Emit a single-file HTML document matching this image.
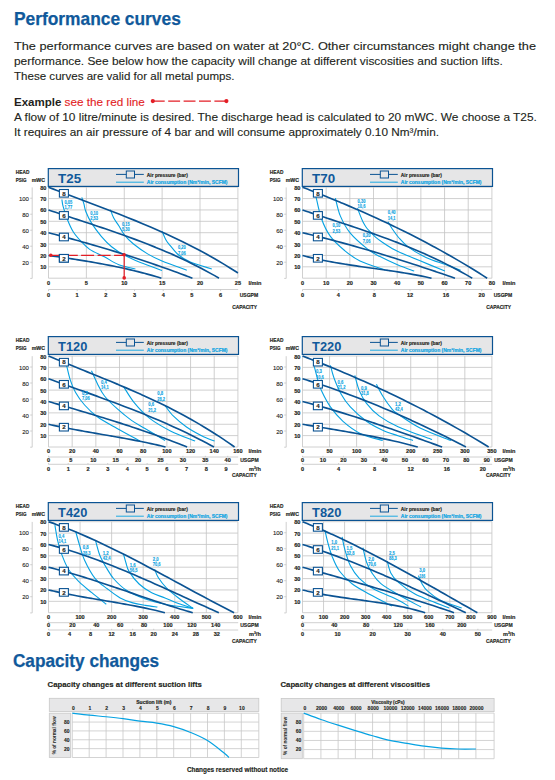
<!DOCTYPE html>
<html><head><meta charset="utf-8"><style>
html,body{margin:0;padding:0;background:#fff;width:555px;height:780px;overflow:hidden;position:relative}
</style></head><body>
<svg width="555" height="780" viewBox="0 0 555 780" style="position:absolute;left:0;top:0;font-family:'Liberation Sans', sans-serif">
<text x="14" y="24.9" font-size="19" fill="#10599b" font-weight="bold" stroke="#10599b" stroke-width="0.25" textLength="166.8" lengthAdjust="spacingAndGlyphs">Performance curves</text>
<text x="14" y="49.8" font-size="11.8" fill="#231f20" stroke="#231f20" stroke-width="0.12" textLength="522" lengthAdjust="spacingAndGlyphs">The performance curves are based on water at 20°C. Other circumstances might change the</text>
<text x="14" y="64.8" font-size="11.8" fill="#231f20" stroke="#231f20" stroke-width="0.12" textLength="488.7" lengthAdjust="spacingAndGlyphs">performance. See below how the capacity will change at different viscosities and suction lifts.</text>
<text x="14" y="79.8" font-size="11.8" fill="#231f20" stroke="#231f20" stroke-width="0.12" textLength="220.5" lengthAdjust="spacingAndGlyphs">These curves are valid for all metal pumps.</text>
<text x="14" y="106" font-size="11.8" fill="#231f20" font-weight="bold" textLength="47.5" lengthAdjust="spacingAndGlyphs">Example</text>
<text x="64.6" y="106" font-size="11.8" fill="#e31e26" stroke="#e31e26" stroke-width="0.12" textLength="80.2" lengthAdjust="spacingAndGlyphs">see the red line</text>
<line x1="152.8" y1="101.1" x2="226.4" y2="101.1" stroke="#e31e26" stroke-width="1.3" stroke-dasharray="11.9 3.5"/>
<circle cx="152.8" cy="101.1" r="2.1" fill="#e31e26"/><circle cx="226.4" cy="101.1" r="2.1" fill="#e31e26"/>
<text x="14" y="121.4" font-size="11.8" fill="#231f20" stroke="#231f20" stroke-width="0.12" textLength="522.9" lengthAdjust="spacingAndGlyphs">A flow of 10 litre/minute is desired. The discharge head is calculated to 20 mWC. We choose a T25.</text>
<text x="14" y="136.2" font-size="11.8" fill="#231f20" stroke="#231f20" stroke-width="0.12" textLength="425" lengthAdjust="spacingAndGlyphs">It requires an air pressure of 4 bar and will consume approximately 0.10 Nm³/min.</text>
<text x="15.8" y="173.9" font-size="5.4" fill="#231f20" font-weight="bold" stroke="#231f20" stroke-width="0.16" textLength="13.6" lengthAdjust="spacingAndGlyphs">HEAD</text>
<text x="15.8" y="181.8" font-size="5.4" fill="#231f20" font-weight="bold" stroke="#231f20" stroke-width="0.16" textLength="10.8" lengthAdjust="spacingAndGlyphs">PSIG</text>
<text x="31.7" y="181.8" font-size="5.4" fill="#231f20" font-weight="bold" stroke="#231f20" stroke-width="0.16" textLength="13.4" lengthAdjust="spacingAndGlyphs">mWC</text>
<path d="M32.2 187.4 V278.4 H30.2" fill="none" stroke="#c4c4c4" stroke-width="0.8"/>
<line x1="30.2" y1="262.21" x2="32.2" y2="262.21" stroke="#c4c4c4" stroke-width="0.8"/>
<text x="28.9" y="264.71" font-size="6" fill="#222" stroke="#222" stroke-width="0.1" text-anchor="end">20</text>
<line x1="30.2" y1="246.21" x2="32.2" y2="246.21" stroke="#c4c4c4" stroke-width="0.8"/>
<text x="28.9" y="248.71" font-size="6" fill="#222" stroke="#222" stroke-width="0.1" text-anchor="end">40</text>
<line x1="30.2" y1="230.22" x2="32.2" y2="230.22" stroke="#c4c4c4" stroke-width="0.8"/>
<text x="28.9" y="232.72" font-size="6" fill="#222" stroke="#222" stroke-width="0.1" text-anchor="end">60</text>
<line x1="30.2" y1="214.22" x2="32.2" y2="214.22" stroke="#c4c4c4" stroke-width="0.8"/>
<text x="28.9" y="216.72" font-size="6" fill="#222" stroke="#222" stroke-width="0.1" text-anchor="end">80</text>
<line x1="30.2" y1="198.23" x2="32.2" y2="198.23" stroke="#c4c4c4" stroke-width="0.8"/>
<text x="28.9" y="200.73" font-size="6" fill="#222" stroke="#222" stroke-width="0.1" text-anchor="end">100</text>
<text x="46.4" y="269.32" font-size="5.6" fill="#231f20" font-weight="bold" stroke="#231f20" stroke-width="0.16" text-anchor="end">10</text>
<text x="46.4" y="257.95" font-size="5.6" fill="#231f20" font-weight="bold" stroke="#231f20" stroke-width="0.16" text-anchor="end">20</text>
<text x="46.4" y="246.57" font-size="5.6" fill="#231f20" font-weight="bold" stroke="#231f20" stroke-width="0.16" text-anchor="end">30</text>
<text x="46.4" y="235.2" font-size="5.6" fill="#231f20" font-weight="bold" stroke="#231f20" stroke-width="0.16" text-anchor="end">40</text>
<text x="46.4" y="223.82" font-size="5.6" fill="#231f20" font-weight="bold" stroke="#231f20" stroke-width="0.16" text-anchor="end">50</text>
<text x="46.4" y="212.45" font-size="5.6" fill="#231f20" font-weight="bold" stroke="#231f20" stroke-width="0.16" text-anchor="end">60</text>
<text x="46.4" y="201.07" font-size="5.6" fill="#231f20" font-weight="bold" stroke="#231f20" stroke-width="0.16" text-anchor="end">70</text>
<text x="46.4" y="189.7" font-size="5.6" fill="#231f20" font-weight="bold" stroke="#231f20" stroke-width="0.16" text-anchor="end">80</text>
<path d="M48.5 266.82 H237.9 M48.5 255.45 H237.9 M48.5 244.07 H237.9 M48.5 232.7 H237.9 M48.5 221.32 H237.9 M48.5 209.95 H237.9 M48.5 198.57 H237.9 M48.5 187.2 H237.9 M48.5 187.2 V278.2 M86.38 187.2 V278.2 M124.26 187.2 V278.2 M162.14 187.2 V278.2 M200.02 187.2 V278.2 M237.9 187.2 V278.2 M48.5 278.2 H237.9" fill="none" stroke="#c4c4c4" stroke-width="0.8"/>
<rect x="48.3" y="168.6" width="190.2" height="17.8" fill="#e6e6e7" stroke="#0b5393" stroke-width="1.2"/>
<text x="58.1" y="182.7" font-size="12.2" fill="#10599b" font-weight="bold" textLength="23" lengthAdjust="spacingAndGlyphs">T25</text>
<line x1="116" y1="174.4" x2="143.8" y2="174.4" stroke="#0b5393" stroke-width="1"/>
<rect x="126.3" y="171" width="8.2" height="7" fill="#e6e6e7" stroke="#0b5393" stroke-width="1"/>
<line x1="116" y1="182.2" x2="143.8" y2="182.2" stroke="#06a2e2" stroke-width="0.9"/>
<text x="146.8" y="176.7" font-size="5" fill="#231f20" font-weight="bold" stroke="#231f20" stroke-width="0.16" textLength="41" lengthAdjust="spacingAndGlyphs">Air pressure (bar)</text>
<text x="146.8" y="183.6" font-size="5" fill="#06a2e2" font-weight="bold" stroke="#06a2e2" stroke-width="0.16" textLength="80.7" lengthAdjust="spacingAndGlyphs">Air consumption (Nm³/min, SCFM)</text>
<path d="M61.9 199.5 C62.1 200.65 62.17 203.03 63.1 206.4 C64.03 209.77 65.82 215.48 67.5 219.7 C69.18 223.92 70.88 228.03 73.2 231.7 C75.52 235.37 78.6 238.72 81.4 241.7 C84.2 244.68 86.17 247.08 90 249.6 C93.83 252.12 99.6 254.28 104.4 256.8 C109.2 259.32 113.63 262.67 118.8 264.7 C123.97 266.73 132.63 268.28 135.4 269" fill="none" stroke="#06a2e2" stroke-width="1.1"/>
<path d="M81.8 197.4 C82.15 198.48 83.23 201.55 83.9 203.9 C84.57 206.25 84.55 208.33 85.8 211.5 C87.05 214.67 88.78 218.72 91.4 222.9 C94.02 227.08 98.13 232.63 101.5 236.6 C104.87 240.57 107.75 243.58 111.6 246.7 C115.45 249.82 119.8 252.67 124.6 255.3 C129.4 257.93 134.17 259.97 140.4 262.5 C146.63 265.03 158.4 269.17 162 270.5" fill="none" stroke="#06a2e2" stroke-width="1.1"/>
<path d="M110.4 209.6 C110.93 210.97 112.2 215.1 113.6 217.8 C115 220.5 116.97 222.9 118.8 225.8 C120.63 228.7 122.2 232.2 124.6 235.2 C127 238.2 129.37 240.68 133.2 243.8 C137.03 246.92 142.8 251.02 147.6 253.9 C152.4 256.78 155.47 258.38 162 261.1 C168.53 263.82 182.67 268.68 186.8 270.2" fill="none" stroke="#06a2e2" stroke-width="1.1"/>
<path d="M162.2 231.6 C162.83 233 164.7 237.72 166 240 C167.3 242.28 167.9 242.8 170 245.3 C172.1 247.8 175.22 252.22 178.6 255 C181.98 257.78 184.77 259.67 190.3 262 C195.83 264.33 208.22 267.83 211.8 269" fill="none" stroke="#06a2e2" stroke-width="1.1"/>
<path d="M48.5 187.2 C49.82 187.71 53.76 189.25 56.39 190.26 C59.02 191.28 61.65 192.28 64.28 193.29 C66.91 194.29 69.54 195.29 72.17 196.28 C74.81 197.28 77.44 198.27 80.07 199.26 C82.7 200.25 85.33 201.24 87.96 202.24 C90.59 203.23 93.22 204.22 95.85 205.22 C98.48 206.22 101.11 207.21 103.74 208.22 C106.37 209.23 109 210.23 111.63 211.25 C114.26 212.27 116.89 213.29 119.53 214.32 C122.16 215.35 124.79 216.39 127.42 217.44 C130.05 218.49 132.68 219.56 135.31 220.63 C137.94 221.7 140.57 222.79 143.2 223.89 C145.83 224.99 148.46 226.11 151.09 227.24 C153.72 228.37 156.35 229.52 158.98 230.68 C161.61 231.85 164.24 233.03 166.88 234.23 C169.51 235.44 172.14 236.66 174.77 237.91 C177.4 239.15 180.03 240.42 182.66 241.71 C185.29 243 187.92 244.32 190.55 245.66 C193.18 247 195.81 248.36 198.44 249.76 C201.07 251.15 203.7 252.57 206.33 254.02 C208.96 255.48 211.59 256.96 214.23 258.47 C216.86 259.98 219.49 261.52 222.12 263.1 C224.75 264.67 227.38 266.28 230.01 267.93 C232.64 269.57 236.58 272.13 237.9 272.97" fill="none" stroke="#0b5393" stroke-width="1.65"/>
<path d="M48.5 209.95 C49.68 210.35 53.23 211.55 55.6 212.34 C57.97 213.13 60.34 213.91 62.7 214.7 C65.07 215.48 67.44 216.26 69.81 217.04 C72.18 217.82 74.54 218.6 76.91 219.38 C79.28 220.16 81.64 220.94 84.01 221.72 C86.38 222.5 88.75 223.28 91.12 224.07 C93.48 224.85 95.85 225.64 98.22 226.43 C100.59 227.23 102.95 228.03 105.32 228.83 C107.69 229.64 110.06 230.45 112.42 231.26 C114.79 232.08 117.16 232.91 119.53 233.74 C121.89 234.58 124.26 235.42 126.63 236.28 C129 237.13 131.36 237.99 133.73 238.87 C136.1 239.75 138.47 240.64 140.83 241.54 C143.2 242.44 145.57 243.36 147.94 244.29 C150.3 245.22 152.67 246.17 155.04 247.13 C157.41 248.09 159.77 249.07 162.14 250.07 C164.51 251.07 166.88 252.08 169.24 253.12 C171.61 254.15 173.98 255.2 176.35 256.28 C178.71 257.35 181.08 258.45 183.45 259.57 C185.82 260.69 188.18 261.82 190.55 262.99 C192.92 264.15 195.28 265.34 197.65 266.56 C200.02 267.77 202.39 269.01 204.76 270.27 C207.12 271.54 209.49 272.83 211.86 274.15 C214.23 275.47 217.78 277.52 218.96 278.2" fill="none" stroke="#0b5393" stroke-width="1.65"/>
<path d="M48.5 232.7 C49.5 232.96 52.5 233.75 54.5 234.28 C56.5 234.81 58.5 235.34 60.5 235.88 C62.49 236.42 64.49 236.96 66.49 237.51 C68.49 238.05 70.49 238.6 72.49 239.15 C74.49 239.71 76.49 240.26 78.49 240.82 C80.49 241.39 82.49 241.95 84.49 242.52 C86.49 243.09 88.48 243.67 90.48 244.24 C92.48 244.82 94.48 245.41 96.48 245.99 C98.48 246.58 100.48 247.17 102.48 247.77 C104.48 248.37 106.48 248.97 108.48 249.57 C110.48 250.18 112.48 250.79 114.47 251.41 C116.47 252.02 118.47 252.64 120.47 253.27 C122.47 253.89 124.47 254.52 126.47 255.16 C128.47 255.8 130.47 256.44 132.47 257.08 C134.47 257.73 136.47 258.38 138.47 259.04 C140.46 259.7 142.46 260.36 144.46 261.03 C146.46 261.7 148.46 262.37 150.46 263.05 C152.46 263.73 154.46 264.41 156.46 265.1 C158.46 265.8 160.46 266.49 162.46 267.2 C164.45 267.9 166.45 268.61 168.45 269.32 C170.45 270.04 172.45 270.76 174.45 271.48 C176.45 272.21 178.45 272.95 180.45 273.68 C182.45 274.42 184.45 275.17 186.45 275.92 C188.45 276.68 191.44 277.82 192.44 278.2" fill="none" stroke="#0b5393" stroke-width="1.65"/>
<path d="M48.5 255.45 C49.28 255.56 51.64 255.9 53.2 256.12 C54.77 256.35 56.34 256.58 57.91 256.8 C59.47 257.03 61.04 257.26 62.61 257.49 C64.18 257.72 65.75 257.96 67.31 258.19 C68.88 258.43 70.45 258.66 72.02 258.9 C73.58 259.14 75.15 259.39 76.72 259.63 C78.29 259.88 79.86 260.13 81.42 260.38 C82.99 260.63 84.56 260.88 86.13 261.14 C87.7 261.4 89.26 261.67 90.83 261.93 C92.4 262.2 93.97 262.47 95.53 262.75 C97.1 263.02 98.67 263.3 100.24 263.59 C101.81 263.88 103.37 264.17 104.94 264.46 C106.51 264.76 108.08 265.06 109.64 265.37 C111.21 265.68 112.78 265.99 114.35 266.31 C115.92 266.63 117.48 266.95 119.05 267.29 C120.62 267.62 122.19 267.96 123.75 268.31 C125.32 268.65 126.89 269.01 128.46 269.37 C130.03 269.73 131.59 270.1 133.16 270.47 C134.73 270.85 136.3 271.23 137.87 271.63 C139.43 272.02 141 272.42 142.57 272.83 C144.14 273.24 145.7 273.66 147.27 274.09 C148.84 274.52 150.41 274.95 151.98 275.4 C153.54 275.85 155.11 276.3 156.68 276.77 C158.25 277.24 160.6 277.96 161.38 278.2" fill="none" stroke="#0b5393" stroke-width="1.65"/>
<text x="64.4" y="203.9" font-size="5" fill="#06a2e2" font-weight="bold" stroke="#06a2e2" stroke-width="0.1" textLength="7.8" lengthAdjust="spacingAndGlyphs">0,05</text>
<text x="64.4" y="209.4" font-size="5" fill="#06a2e2" font-weight="bold" stroke="#06a2e2" stroke-width="0.1" textLength="7.8" lengthAdjust="spacingAndGlyphs">1,77</text>
<text x="90.2" y="214.6" font-size="5" fill="#06a2e2" font-weight="bold" stroke="#06a2e2" stroke-width="0.1" textLength="7.8" lengthAdjust="spacingAndGlyphs">0,10</text>
<text x="90.2" y="220.1" font-size="5" fill="#06a2e2" font-weight="bold" stroke="#06a2e2" stroke-width="0.1" textLength="7.8" lengthAdjust="spacingAndGlyphs">2,53</text>
<text x="121.9" y="225.9" font-size="5" fill="#06a2e2" font-weight="bold" stroke="#06a2e2" stroke-width="0.1" textLength="7.8" lengthAdjust="spacingAndGlyphs">0,15</text>
<text x="121.9" y="231.4" font-size="5" fill="#06a2e2" font-weight="bold" stroke="#06a2e2" stroke-width="0.1" textLength="7.8" lengthAdjust="spacingAndGlyphs">5,30</text>
<text x="178" y="249.1" font-size="5" fill="#06a2e2" font-weight="bold" stroke="#06a2e2" stroke-width="0.1" textLength="7.8" lengthAdjust="spacingAndGlyphs">0,20</text>
<text x="178" y="254.6" font-size="5" fill="#06a2e2" font-weight="bold" stroke="#06a2e2" stroke-width="0.1" textLength="7.8" lengthAdjust="spacingAndGlyphs">7,06</text>
<rect x="59.4" y="189.5" width="9" height="7.6" fill="#fff" stroke="#0b5393" stroke-width="1.1"/>
<text x="63.9" y="195.5" font-size="6.2" fill="#231f20" font-weight="bold" stroke="#231f20" stroke-width="0.16" text-anchor="middle">8</text>
<rect x="59.4" y="211.6" width="9" height="7.6" fill="#fff" stroke="#0b5393" stroke-width="1.1"/>
<text x="63.9" y="217.6" font-size="6.2" fill="#231f20" font-weight="bold" stroke="#231f20" stroke-width="0.16" text-anchor="middle">6</text>
<rect x="59.4" y="233.2" width="9" height="7.6" fill="#fff" stroke="#0b5393" stroke-width="1.1"/>
<text x="63.9" y="239.2" font-size="6.2" fill="#231f20" font-weight="bold" stroke="#231f20" stroke-width="0.16" text-anchor="middle">4</text>
<rect x="59.4" y="254.5" width="9" height="7.6" fill="#fff" stroke="#0b5393" stroke-width="1.1"/>
<text x="63.9" y="260.5" font-size="6.2" fill="#231f20" font-weight="bold" stroke="#231f20" stroke-width="0.16" text-anchor="middle">2</text>
<text x="48.5" y="285.1" font-size="5.6" fill="#231f20" font-weight="bold" stroke="#231f20" stroke-width="0.16" text-anchor="middle">0</text>
<text x="86.38" y="285.1" font-size="5.6" fill="#231f20" font-weight="bold" stroke="#231f20" stroke-width="0.16" text-anchor="middle">5</text>
<text x="124.26" y="285.1" font-size="5.6" fill="#231f20" font-weight="bold" stroke="#231f20" stroke-width="0.16" text-anchor="middle">10</text>
<text x="162.14" y="285.1" font-size="5.6" fill="#231f20" font-weight="bold" stroke="#231f20" stroke-width="0.16" text-anchor="middle">15</text>
<text x="200.02" y="285.1" font-size="5.6" fill="#231f20" font-weight="bold" stroke="#231f20" stroke-width="0.16" text-anchor="middle">20</text>
<text x="237.9" y="285.1" font-size="5.6" fill="#231f20" font-weight="bold" stroke="#231f20" stroke-width="0.16" text-anchor="middle">25</text>
<text x="248.4" y="285.2" font-size="5.6" fill="#231f20" font-weight="bold" stroke="#231f20" stroke-width="0.16">l/min</text>
<line x1="48.5" y1="289.5" x2="238.2" y2="289.5" stroke="#c4c4c4" stroke-width="0.8"/>
<line x1="48.5" y1="289.5" x2="48.5" y2="291.1" stroke="#c4c4c4" stroke-width="0.8"/>
<text x="48.5" y="297.3" font-size="5.6" fill="#231f20" font-weight="bold" stroke="#231f20" stroke-width="0.16" text-anchor="middle">0</text>
<line x1="77.18" y1="289.5" x2="77.18" y2="291.1" stroke="#c4c4c4" stroke-width="0.8"/>
<text x="77.18" y="297.3" font-size="5.6" fill="#231f20" font-weight="bold" stroke="#231f20" stroke-width="0.16" text-anchor="middle">1</text>
<line x1="105.86" y1="289.5" x2="105.86" y2="291.1" stroke="#c4c4c4" stroke-width="0.8"/>
<text x="105.86" y="297.3" font-size="5.6" fill="#231f20" font-weight="bold" stroke="#231f20" stroke-width="0.16" text-anchor="middle">2</text>
<line x1="134.53" y1="289.5" x2="134.53" y2="291.1" stroke="#c4c4c4" stroke-width="0.8"/>
<text x="134.53" y="297.3" font-size="5.6" fill="#231f20" font-weight="bold" stroke="#231f20" stroke-width="0.16" text-anchor="middle">3</text>
<line x1="163.21" y1="289.5" x2="163.21" y2="291.1" stroke="#c4c4c4" stroke-width="0.8"/>
<text x="163.21" y="297.3" font-size="5.6" fill="#231f20" font-weight="bold" stroke="#231f20" stroke-width="0.16" text-anchor="middle">4</text>
<line x1="191.89" y1="289.5" x2="191.89" y2="291.1" stroke="#c4c4c4" stroke-width="0.8"/>
<text x="191.89" y="297.3" font-size="5.6" fill="#231f20" font-weight="bold" stroke="#231f20" stroke-width="0.16" text-anchor="middle">5</text>
<line x1="220.57" y1="289.5" x2="220.57" y2="291.1" stroke="#c4c4c4" stroke-width="0.8"/>
<text x="220.57" y="297.3" font-size="5.6" fill="#231f20" font-weight="bold" stroke="#231f20" stroke-width="0.16" text-anchor="middle">6</text>
<text x="239.7" y="297.3" font-size="5.4" fill="#231f20" font-weight="bold" stroke="#231f20" stroke-width="0.16" textLength="18.5" lengthAdjust="spacingAndGlyphs">USGPM</text>
<text x="232.2" y="309.2" font-size="5.2" fill="#231f20" font-weight="bold" stroke="#231f20" stroke-width="0.16" textLength="24.8" lengthAdjust="spacingAndGlyphs">CAPACITY</text>
<line x1="50.8" y1="255.3" x2="124.2" y2="255.3" stroke="#e31e26" stroke-width="1.2" stroke-dasharray="27 3.3 13 3.5 13 3.5 13"/>
<line x1="124.2" y1="255.3" x2="124.2" y2="278" stroke="#e31e26" stroke-width="1.2"/>
<circle cx="50.8" cy="255.2" r="1.8" fill="#e31e26"/>
<circle cx="124.1" cy="254.8" r="1.8" fill="#e31e26"/>
<circle cx="124.2" cy="277.9" r="1.8" fill="#e31e26"/>
<rect x="59.4" y="254.5" width="9" height="7.6" fill="#fff" stroke="#0b5393" stroke-width="1.1"/>
<text x="63.9" y="260.5" font-size="6.2" fill="#231f20" font-weight="bold" stroke="#231f20" stroke-width="0.16" text-anchor="middle">2</text>
<text x="269.8" y="173.9" font-size="5.4" fill="#231f20" font-weight="bold" stroke="#231f20" stroke-width="0.16" textLength="13.6" lengthAdjust="spacingAndGlyphs">HEAD</text>
<text x="269.8" y="181.8" font-size="5.4" fill="#231f20" font-weight="bold" stroke="#231f20" stroke-width="0.16" textLength="10.8" lengthAdjust="spacingAndGlyphs">PSIG</text>
<text x="285.7" y="181.8" font-size="5.4" fill="#231f20" font-weight="bold" stroke="#231f20" stroke-width="0.16" textLength="13.4" lengthAdjust="spacingAndGlyphs">mWC</text>
<path d="M286.2 187.4 V278.4 H284.2" fill="none" stroke="#c4c4c4" stroke-width="0.8"/>
<line x1="284.2" y1="262.21" x2="286.2" y2="262.21" stroke="#c4c4c4" stroke-width="0.8"/>
<text x="282.9" y="264.71" font-size="6" fill="#222" stroke="#222" stroke-width="0.1" text-anchor="end">20</text>
<line x1="284.2" y1="246.21" x2="286.2" y2="246.21" stroke="#c4c4c4" stroke-width="0.8"/>
<text x="282.9" y="248.71" font-size="6" fill="#222" stroke="#222" stroke-width="0.1" text-anchor="end">40</text>
<line x1="284.2" y1="230.22" x2="286.2" y2="230.22" stroke="#c4c4c4" stroke-width="0.8"/>
<text x="282.9" y="232.72" font-size="6" fill="#222" stroke="#222" stroke-width="0.1" text-anchor="end">60</text>
<line x1="284.2" y1="214.22" x2="286.2" y2="214.22" stroke="#c4c4c4" stroke-width="0.8"/>
<text x="282.9" y="216.72" font-size="6" fill="#222" stroke="#222" stroke-width="0.1" text-anchor="end">80</text>
<line x1="284.2" y1="198.23" x2="286.2" y2="198.23" stroke="#c4c4c4" stroke-width="0.8"/>
<text x="282.9" y="200.73" font-size="6" fill="#222" stroke="#222" stroke-width="0.1" text-anchor="end">100</text>
<text x="300.4" y="269.32" font-size="5.6" fill="#231f20" font-weight="bold" stroke="#231f20" stroke-width="0.16" text-anchor="end">10</text>
<text x="300.4" y="257.95" font-size="5.6" fill="#231f20" font-weight="bold" stroke="#231f20" stroke-width="0.16" text-anchor="end">20</text>
<text x="300.4" y="246.57" font-size="5.6" fill="#231f20" font-weight="bold" stroke="#231f20" stroke-width="0.16" text-anchor="end">30</text>
<text x="300.4" y="235.2" font-size="5.6" fill="#231f20" font-weight="bold" stroke="#231f20" stroke-width="0.16" text-anchor="end">40</text>
<text x="300.4" y="223.82" font-size="5.6" fill="#231f20" font-weight="bold" stroke="#231f20" stroke-width="0.16" text-anchor="end">50</text>
<text x="300.4" y="212.45" font-size="5.6" fill="#231f20" font-weight="bold" stroke="#231f20" stroke-width="0.16" text-anchor="end">60</text>
<text x="300.4" y="201.07" font-size="5.6" fill="#231f20" font-weight="bold" stroke="#231f20" stroke-width="0.16" text-anchor="end">70</text>
<text x="300.4" y="189.7" font-size="5.6" fill="#231f20" font-weight="bold" stroke="#231f20" stroke-width="0.16" text-anchor="end">80</text>
<path d="M302.5 266.82 H491.9 M302.5 255.45 H491.9 M302.5 244.07 H491.9 M302.5 232.7 H491.9 M302.5 221.32 H491.9 M302.5 209.95 H491.9 M302.5 198.57 H491.9 M302.5 187.2 H491.9 M302.5 187.2 V278.2 M326.18 187.2 V278.2 M349.85 187.2 V278.2 M373.52 187.2 V278.2 M397.2 187.2 V278.2 M420.88 187.2 V278.2 M444.55 187.2 V278.2 M468.22 187.2 V278.2 M491.9 187.2 V278.2 M302.5 278.2 H491.9" fill="none" stroke="#c4c4c4" stroke-width="0.8"/>
<rect x="302.3" y="168.6" width="190.2" height="17.8" fill="#e6e6e7" stroke="#0b5393" stroke-width="1.2"/>
<text x="312.1" y="182.7" font-size="12.2" fill="#10599b" font-weight="bold" textLength="23" lengthAdjust="spacingAndGlyphs">T70</text>
<line x1="370" y1="174.4" x2="397.8" y2="174.4" stroke="#0b5393" stroke-width="1"/>
<rect x="380.3" y="171" width="8.2" height="7" fill="#e6e6e7" stroke="#0b5393" stroke-width="1"/>
<line x1="370" y1="182.2" x2="397.8" y2="182.2" stroke="#06a2e2" stroke-width="0.9"/>
<text x="400.8" y="176.7" font-size="5" fill="#231f20" font-weight="bold" stroke="#231f20" stroke-width="0.16" textLength="41" lengthAdjust="spacingAndGlyphs">Air pressure (bar)</text>
<text x="400.8" y="183.6" font-size="5" fill="#06a2e2" font-weight="bold" stroke="#06a2e2" stroke-width="0.16" textLength="80.7" lengthAdjust="spacingAndGlyphs">Air consumption (Nm³/min, SCFM)</text>
<path d="M315.8 195.8 C316.75 199.63 319.1 212.08 321.5 218.8 C323.9 225.52 326.35 230.82 330.2 236.1 C334.05 241.38 339.63 246.35 344.6 250.5 C349.57 254.65 353.27 257.75 360 261 C366.73 264.25 380.83 268.5 385 270" fill="none" stroke="#06a2e2" stroke-width="1.1"/>
<path d="M335.4 198.1 C336.22 201.07 337.82 210.05 340.3 215.9 C342.78 221.75 345.75 227.67 350.3 233.2 C354.85 238.73 362.65 245.2 367.6 249.1 C372.55 253 374.93 253.95 380 256.6 C385.07 259.25 392.3 262.6 398 265 C403.7 267.4 411.5 270 414.2 271" fill="none" stroke="#06a2e2" stroke-width="1.1"/>
<path d="M357.5 208.2 C357.95 209.4 359.3 213.15 360.2 215.4 C361.1 217.65 361.85 219.65 362.9 221.7 C363.95 223.75 365.3 226.05 366.5 227.7 C367.7 229.35 368.6 230.03 370.1 231.6 C371.6 233.17 373.4 235.28 375.5 237.1 C377.6 238.92 380 240.65 382.7 242.5 C385.4 244.35 389.15 246.7 391.7 248.2 C394.25 249.7 393.37 249.43 398 251.5 C402.63 253.57 411.68 257.35 419.5 260.6 C427.32 263.85 440.67 269.27 444.9 271" fill="none" stroke="#06a2e2" stroke-width="1.1"/>
<path d="M388 221.7 C388.67 222.83 390.23 225.87 392 228.5 C393.77 231.13 395.82 234.35 398.6 237.5 C401.38 240.65 404.13 244.08 408.7 247.4 C413.27 250.72 419.87 254.53 426 257.4 C432.13 260.27 439.73 262.47 445.5 264.6 C451.27 266.73 458.08 269.27 460.6 270.2" fill="none" stroke="#06a2e2" stroke-width="1.1"/>
<path d="M302.5 187.2 C303.78 187.7 307.63 189.19 310.19 190.19 C312.76 191.2 315.32 192.21 317.89 193.23 C320.45 194.25 323.02 195.28 325.58 196.31 C328.15 197.35 330.71 198.4 333.28 199.45 C335.84 200.5 338.41 201.56 340.97 202.64 C343.54 203.71 346.1 204.79 348.67 205.88 C351.23 206.98 353.8 208.08 356.36 209.19 C358.93 210.3 361.49 211.43 364.06 212.56 C366.62 213.7 369.18 214.84 371.75 216 C374.31 217.16 376.88 218.33 379.44 219.51 C382.01 220.7 384.57 221.89 387.14 223.1 C389.7 224.31 392.27 225.53 394.83 226.77 C397.4 228 399.96 229.25 402.53 230.51 C405.09 231.78 407.66 233.05 410.22 234.35 C412.79 235.64 415.35 236.95 417.92 238.27 C420.48 239.59 423.05 240.93 425.61 242.29 C428.17 243.64 430.74 245.01 433.3 246.4 C435.87 247.79 438.43 249.19 441 250.62 C443.56 252.04 446.13 253.48 448.69 254.93 C451.26 256.39 453.82 257.86 456.39 259.36 C458.95 260.85 461.52 262.36 464.08 263.89 C466.65 265.42 469.21 266.97 471.78 268.54 C474.34 270.11 476.91 271.7 479.47 273.31 C482.04 274.92 485.88 277.39 487.16 278.2" fill="none" stroke="#0b5393" stroke-width="1.65"/>
<path d="M302.5 209.95 C303.68 210.35 307.22 211.54 309.57 212.33 C311.93 213.12 314.29 213.91 316.65 214.69 C319 215.47 321.36 216.25 323.72 217.03 C326.08 217.81 328.43 218.58 330.79 219.36 C333.15 220.14 335.51 220.91 337.86 221.69 C340.22 222.47 342.58 223.24 344.94 224.03 C347.3 224.81 349.65 225.59 352.01 226.38 C354.37 227.17 356.73 227.97 359.08 228.77 C361.44 229.57 363.8 230.37 366.16 231.19 C368.51 232 370.87 232.82 373.23 233.65 C375.59 234.48 377.94 235.32 380.3 236.17 C382.66 237.02 385.02 237.88 387.37 238.76 C389.73 239.63 392.09 240.52 394.45 241.42 C396.81 242.32 399.16 243.23 401.52 244.16 C403.88 245.09 406.24 246.03 408.59 247 C410.95 247.96 413.31 248.94 415.67 249.93 C418.02 250.93 420.38 251.95 422.74 252.98 C425.1 254.02 427.45 255.07 429.81 256.15 C432.17 257.23 434.53 258.32 436.89 259.45 C439.24 260.57 441.6 261.71 443.96 262.88 C446.32 264.05 448.67 265.25 451.03 266.47 C453.39 267.69 455.75 268.93 458.1 270.21 C460.46 271.48 462.82 272.78 465.18 274.12 C467.53 275.45 471.07 277.52 472.25 278.2" fill="none" stroke="#0b5393" stroke-width="1.65"/>
<path d="M302.5 232.7 C303.56 232.95 306.74 233.7 308.85 234.21 C310.97 234.72 313.09 235.24 315.21 235.76 C317.32 236.29 319.44 236.82 321.56 237.36 C323.68 237.89 325.79 238.44 327.91 238.99 C330.03 239.54 332.15 240.09 334.26 240.65 C336.38 241.22 338.5 241.78 340.62 242.36 C342.73 242.93 344.85 243.51 346.97 244.1 C349.09 244.68 351.2 245.28 353.32 245.87 C355.44 246.47 357.56 247.07 359.68 247.68 C361.79 248.29 363.91 248.9 366.03 249.52 C368.15 250.14 370.26 250.77 372.38 251.4 C374.5 252.03 376.62 252.66 378.73 253.3 C380.85 253.94 382.97 254.59 385.09 255.23 C387.2 255.88 389.32 256.54 391.44 257.2 C393.56 257.86 395.67 258.52 397.79 259.19 C399.91 259.86 402.03 260.53 404.14 261.21 C406.26 261.88 408.38 262.56 410.5 263.25 C412.62 263.93 414.73 264.62 416.85 265.32 C418.97 266.01 421.09 266.71 423.2 267.41 C425.32 268.11 427.44 268.82 429.56 269.53 C431.67 270.24 433.79 270.95 435.91 271.66 C438.03 272.38 440.14 273.1 442.26 273.82 C444.38 274.55 446.5 275.27 448.61 276 C450.73 276.73 453.91 277.83 454.97 278.2" fill="none" stroke="#0b5393" stroke-width="1.65"/>
<path d="M302.5 255.45 C303.4 255.68 306.08 256.4 307.88 256.84 C309.67 257.29 311.46 257.72 313.25 258.14 C315.04 258.56 316.84 258.96 318.63 259.34 C320.42 259.73 322.21 260.11 324 260.47 C325.8 260.83 327.59 261.18 329.38 261.52 C331.17 261.86 332.97 262.18 334.76 262.5 C336.55 262.82 338.34 263.13 340.13 263.43 C341.93 263.73 343.72 264.02 345.51 264.3 C347.3 264.59 349.09 264.87 350.89 265.14 C352.68 265.41 354.47 265.68 356.26 265.94 C358.05 266.2 359.85 266.46 361.64 266.72 C363.43 266.97 365.22 267.22 367.01 267.48 C368.81 267.73 370.6 267.98 372.39 268.23 C374.18 268.48 375.97 268.72 377.77 268.98 C379.56 269.23 381.35 269.48 383.14 269.73 C384.94 269.99 386.73 270.24 388.52 270.5 C390.31 270.77 392.1 271.03 393.9 271.3 C395.69 271.57 397.48 271.84 399.27 272.13 C401.06 272.41 402.86 272.7 404.65 272.99 C406.44 273.29 408.23 273.59 410.02 273.91 C411.82 274.22 413.61 274.54 415.4 274.88 C417.19 275.21 418.98 275.55 420.78 275.91 C422.57 276.27 424.36 276.63 426.15 277.01 C427.94 277.4 430.63 278 431.53 278.2" fill="none" stroke="#0b5393" stroke-width="1.65"/>
<text x="357.6" y="202.9" font-size="5" fill="#06a2e2" font-weight="bold" stroke="#06a2e2" stroke-width="0.1" textLength="7.8" lengthAdjust="spacingAndGlyphs">0,30</text>
<text x="357.6" y="208.4" font-size="5" fill="#06a2e2" font-weight="bold" stroke="#06a2e2" stroke-width="0.1" textLength="7.8" lengthAdjust="spacingAndGlyphs">10,6</text>
<text x="387.8" y="214.4" font-size="5" fill="#06a2e2" font-weight="bold" stroke="#06a2e2" stroke-width="0.1" textLength="7.8" lengthAdjust="spacingAndGlyphs">0,40</text>
<text x="387.8" y="219.9" font-size="5" fill="#06a2e2" font-weight="bold" stroke="#06a2e2" stroke-width="0.1" textLength="7.8" lengthAdjust="spacingAndGlyphs">14,1</text>
<text x="332.5" y="227.1" font-size="5" fill="#06a2e2" font-weight="bold" stroke="#06a2e2" stroke-width="0.1" textLength="7.8" lengthAdjust="spacingAndGlyphs">0,10</text>
<text x="332.5" y="232.6" font-size="5" fill="#06a2e2" font-weight="bold" stroke="#06a2e2" stroke-width="0.1" textLength="7.8" lengthAdjust="spacingAndGlyphs">2,53</text>
<text x="362.7" y="237.4" font-size="5" fill="#06a2e2" font-weight="bold" stroke="#06a2e2" stroke-width="0.1" textLength="7.8" lengthAdjust="spacingAndGlyphs">0,20</text>
<text x="362.7" y="242.9" font-size="5" fill="#06a2e2" font-weight="bold" stroke="#06a2e2" stroke-width="0.1" textLength="7.8" lengthAdjust="spacingAndGlyphs">7,06</text>
<rect x="313.4" y="189.5" width="9" height="7.6" fill="#fff" stroke="#0b5393" stroke-width="1.1"/>
<text x="317.9" y="195.5" font-size="6.2" fill="#231f20" font-weight="bold" stroke="#231f20" stroke-width="0.16" text-anchor="middle">8</text>
<rect x="313.4" y="211.6" width="9" height="7.6" fill="#fff" stroke="#0b5393" stroke-width="1.1"/>
<text x="317.9" y="217.6" font-size="6.2" fill="#231f20" font-weight="bold" stroke="#231f20" stroke-width="0.16" text-anchor="middle">6</text>
<rect x="313.4" y="233.2" width="9" height="7.6" fill="#fff" stroke="#0b5393" stroke-width="1.1"/>
<text x="317.9" y="239.2" font-size="6.2" fill="#231f20" font-weight="bold" stroke="#231f20" stroke-width="0.16" text-anchor="middle">4</text>
<rect x="313.4" y="254.5" width="9" height="7.6" fill="#fff" stroke="#0b5393" stroke-width="1.1"/>
<text x="317.9" y="260.5" font-size="6.2" fill="#231f20" font-weight="bold" stroke="#231f20" stroke-width="0.16" text-anchor="middle">2</text>
<text x="302.5" y="285.1" font-size="5.6" fill="#231f20" font-weight="bold" stroke="#231f20" stroke-width="0.16" text-anchor="middle">0</text>
<text x="326.18" y="285.1" font-size="5.6" fill="#231f20" font-weight="bold" stroke="#231f20" stroke-width="0.16" text-anchor="middle">10</text>
<text x="349.85" y="285.1" font-size="5.6" fill="#231f20" font-weight="bold" stroke="#231f20" stroke-width="0.16" text-anchor="middle">20</text>
<text x="373.52" y="285.1" font-size="5.6" fill="#231f20" font-weight="bold" stroke="#231f20" stroke-width="0.16" text-anchor="middle">30</text>
<text x="397.2" y="285.1" font-size="5.6" fill="#231f20" font-weight="bold" stroke="#231f20" stroke-width="0.16" text-anchor="middle">40</text>
<text x="420.88" y="285.1" font-size="5.6" fill="#231f20" font-weight="bold" stroke="#231f20" stroke-width="0.16" text-anchor="middle">50</text>
<text x="444.55" y="285.1" font-size="5.6" fill="#231f20" font-weight="bold" stroke="#231f20" stroke-width="0.16" text-anchor="middle">60</text>
<text x="468.22" y="285.1" font-size="5.6" fill="#231f20" font-weight="bold" stroke="#231f20" stroke-width="0.16" text-anchor="middle">70</text>
<text x="491.9" y="285.1" font-size="5.6" fill="#231f20" font-weight="bold" stroke="#231f20" stroke-width="0.16" text-anchor="middle">80</text>
<text x="502.4" y="285.2" font-size="5.6" fill="#231f20" font-weight="bold" stroke="#231f20" stroke-width="0.16">l/min</text>
<line x1="302.5" y1="289.5" x2="492.2" y2="289.5" stroke="#c4c4c4" stroke-width="0.8"/>
<line x1="302.5" y1="289.5" x2="302.5" y2="291.1" stroke="#c4c4c4" stroke-width="0.8"/>
<text x="302.5" y="297.3" font-size="5.6" fill="#231f20" font-weight="bold" stroke="#231f20" stroke-width="0.16" text-anchor="middle">0</text>
<line x1="338.35" y1="289.5" x2="338.35" y2="291.1" stroke="#c4c4c4" stroke-width="0.8"/>
<text x="338.35" y="297.3" font-size="5.6" fill="#231f20" font-weight="bold" stroke="#231f20" stroke-width="0.16" text-anchor="middle">4</text>
<line x1="374.2" y1="289.5" x2="374.2" y2="291.1" stroke="#c4c4c4" stroke-width="0.8"/>
<text x="374.2" y="297.3" font-size="5.6" fill="#231f20" font-weight="bold" stroke="#231f20" stroke-width="0.16" text-anchor="middle">8</text>
<line x1="410.04" y1="289.5" x2="410.04" y2="291.1" stroke="#c4c4c4" stroke-width="0.8"/>
<text x="410.04" y="297.3" font-size="5.6" fill="#231f20" font-weight="bold" stroke="#231f20" stroke-width="0.16" text-anchor="middle">12</text>
<line x1="445.89" y1="289.5" x2="445.89" y2="291.1" stroke="#c4c4c4" stroke-width="0.8"/>
<text x="445.89" y="297.3" font-size="5.6" fill="#231f20" font-weight="bold" stroke="#231f20" stroke-width="0.16" text-anchor="middle">16</text>
<line x1="481.74" y1="289.5" x2="481.74" y2="291.1" stroke="#c4c4c4" stroke-width="0.8"/>
<text x="481.74" y="297.3" font-size="5.6" fill="#231f20" font-weight="bold" stroke="#231f20" stroke-width="0.16" text-anchor="middle">20</text>
<text x="493.7" y="297.3" font-size="5.4" fill="#231f20" font-weight="bold" stroke="#231f20" stroke-width="0.16" textLength="18.5" lengthAdjust="spacingAndGlyphs">USGPM</text>
<text x="486.2" y="309.2" font-size="5.2" fill="#231f20" font-weight="bold" stroke="#231f20" stroke-width="0.16" textLength="24.8" lengthAdjust="spacingAndGlyphs">CAPACITY</text>
<text x="15.8" y="341.9" font-size="5.4" fill="#231f20" font-weight="bold" stroke="#231f20" stroke-width="0.16" textLength="13.6" lengthAdjust="spacingAndGlyphs">HEAD</text>
<text x="15.8" y="349.8" font-size="5.4" fill="#231f20" font-weight="bold" stroke="#231f20" stroke-width="0.16" textLength="10.8" lengthAdjust="spacingAndGlyphs">PSIG</text>
<text x="31.7" y="349.8" font-size="5.4" fill="#231f20" font-weight="bold" stroke="#231f20" stroke-width="0.16" textLength="13.4" lengthAdjust="spacingAndGlyphs">mWC</text>
<path d="M32.2 356.2 V447.2 H30.2" fill="none" stroke="#c4c4c4" stroke-width="0.8"/>
<line x1="30.2" y1="431.01" x2="32.2" y2="431.01" stroke="#c4c4c4" stroke-width="0.8"/>
<text x="28.9" y="433.51" font-size="6" fill="#222" stroke="#222" stroke-width="0.1" text-anchor="end">20</text>
<line x1="30.2" y1="415.01" x2="32.2" y2="415.01" stroke="#c4c4c4" stroke-width="0.8"/>
<text x="28.9" y="417.51" font-size="6" fill="#222" stroke="#222" stroke-width="0.1" text-anchor="end">40</text>
<line x1="30.2" y1="399.02" x2="32.2" y2="399.02" stroke="#c4c4c4" stroke-width="0.8"/>
<text x="28.9" y="401.52" font-size="6" fill="#222" stroke="#222" stroke-width="0.1" text-anchor="end">60</text>
<line x1="30.2" y1="383.02" x2="32.2" y2="383.02" stroke="#c4c4c4" stroke-width="0.8"/>
<text x="28.9" y="385.52" font-size="6" fill="#222" stroke="#222" stroke-width="0.1" text-anchor="end">80</text>
<line x1="30.2" y1="367.03" x2="32.2" y2="367.03" stroke="#c4c4c4" stroke-width="0.8"/>
<text x="28.9" y="369.53" font-size="6" fill="#222" stroke="#222" stroke-width="0.1" text-anchor="end">100</text>
<text x="46.4" y="438.12" font-size="5.6" fill="#231f20" font-weight="bold" stroke="#231f20" stroke-width="0.16" text-anchor="end">10</text>
<text x="46.4" y="426.75" font-size="5.6" fill="#231f20" font-weight="bold" stroke="#231f20" stroke-width="0.16" text-anchor="end">20</text>
<text x="46.4" y="415.38" font-size="5.6" fill="#231f20" font-weight="bold" stroke="#231f20" stroke-width="0.16" text-anchor="end">30</text>
<text x="46.4" y="404" font-size="5.6" fill="#231f20" font-weight="bold" stroke="#231f20" stroke-width="0.16" text-anchor="end">40</text>
<text x="46.4" y="392.62" font-size="5.6" fill="#231f20" font-weight="bold" stroke="#231f20" stroke-width="0.16" text-anchor="end">50</text>
<text x="46.4" y="381.25" font-size="5.6" fill="#231f20" font-weight="bold" stroke="#231f20" stroke-width="0.16" text-anchor="end">60</text>
<text x="46.4" y="369.88" font-size="5.6" fill="#231f20" font-weight="bold" stroke="#231f20" stroke-width="0.16" text-anchor="end">70</text>
<text x="46.4" y="358.5" font-size="5.6" fill="#231f20" font-weight="bold" stroke="#231f20" stroke-width="0.16" text-anchor="end">80</text>
<path d="M48.5 435.62 H237.9 M48.5 424.25 H237.9 M48.5 412.88 H237.9 M48.5 401.5 H237.9 M48.5 390.12 H237.9 M48.5 378.75 H237.9 M48.5 367.38 H237.9 M48.5 356 H237.9 M48.5 356 V447 M72.17 356 V447 M95.85 356 V447 M119.53 356 V447 M143.2 356 V447 M166.88 356 V447 M190.55 356 V447 M214.23 356 V447 M237.9 356 V447 M48.5 447 H237.9" fill="none" stroke="#c4c4c4" stroke-width="0.8"/>
<rect x="48.3" y="336.6" width="190.2" height="17.8" fill="#e6e6e7" stroke="#0b5393" stroke-width="1.2"/>
<text x="58.1" y="350.7" font-size="12.2" fill="#10599b" font-weight="bold" textLength="29.2" lengthAdjust="spacingAndGlyphs">T120</text>
<line x1="116" y1="342.4" x2="143.8" y2="342.4" stroke="#0b5393" stroke-width="1"/>
<rect x="126.3" y="339" width="8.2" height="7" fill="#e6e6e7" stroke="#0b5393" stroke-width="1"/>
<line x1="116" y1="350.2" x2="143.8" y2="350.2" stroke="#06a2e2" stroke-width="0.9"/>
<text x="146.8" y="344.7" font-size="5" fill="#231f20" font-weight="bold" stroke="#231f20" stroke-width="0.16" textLength="41" lengthAdjust="spacingAndGlyphs">Air pressure (bar)</text>
<text x="146.8" y="351.6" font-size="5" fill="#06a2e2" font-weight="bold" stroke="#06a2e2" stroke-width="0.16" textLength="80.7" lengthAdjust="spacingAndGlyphs">Air consumption (Nm³/min, SCFM)</text>
<path d="M66.6 365.4 C67.2 367.8 68.7 375.3 70.2 379.8 C71.7 384.3 73.2 388.2 75.6 392.4 C78 396.6 80.98 400.93 84.6 405 C88.22 409.07 91.88 412.88 97.3 416.8 C102.72 420.72 109.98 424.47 117.1 428.5 C124.22 432.53 136.18 438.92 140 441" fill="none" stroke="#06a2e2" stroke-width="1.1"/>
<path d="M91.5 370.8 C92.47 372.9 95.13 379.2 97.3 383.4 C99.47 387.6 101.2 391.78 104.5 396 C107.8 400.22 112.6 404.63 117.1 408.7 C121.6 412.77 126.85 417.1 131.5 420.4 C136.15 423.7 139.42 425.15 145 428.5 C150.58 431.85 161.67 438.5 165 440.5" fill="none" stroke="#06a2e2" stroke-width="1.1"/>
<path d="M123.8 387 C125.6 389.7 130.28 397.97 134.6 403.2 C138.92 408.43 143.57 413.7 149.7 418.4 C155.83 423.1 163.83 427.62 171.4 431.4 C178.97 435.18 191.15 439.48 195.1 441.1" fill="none" stroke="#06a2e2" stroke-width="1.1"/>
<path d="M164.9 405.4 C166.33 407.2 169.9 412.6 173.5 416.2 C177.1 419.8 181.82 423.75 186.5 427 C191.18 430.25 196.92 433.35 201.6 435.7 C206.28 438.05 212.43 440.2 214.6 441.1" fill="none" stroke="#06a2e2" stroke-width="1.1"/>
<path d="M48.5 356 C49.79 356.54 53.67 358.17 56.25 359.24 C58.84 360.31 61.42 361.37 64.01 362.43 C66.59 363.49 69.18 364.54 71.76 365.59 C74.35 366.64 76.93 367.68 79.51 368.73 C82.1 369.77 84.68 370.82 87.27 371.86 C89.85 372.91 92.44 373.95 95.02 375 C97.61 376.05 100.19 377.1 102.77 378.16 C105.36 379.22 107.94 380.28 110.53 381.35 C113.11 382.42 115.7 383.49 118.28 384.58 C120.87 385.66 123.45 386.76 126.04 387.87 C128.62 388.97 131.2 390.09 133.79 391.22 C136.37 392.36 138.96 393.5 141.54 394.66 C144.13 395.83 146.71 397 149.3 398.2 C151.88 399.4 154.47 400.61 157.05 401.84 C159.63 403.08 162.22 404.33 164.8 405.61 C167.39 406.88 169.97 408.18 172.56 409.5 C175.14 410.83 177.73 412.17 180.31 413.55 C182.9 414.92 185.48 416.32 188.06 417.75 C190.65 419.18 193.23 420.63 195.82 422.12 C198.4 423.61 200.99 425.12 203.57 426.68 C206.16 428.23 208.74 429.81 211.32 431.43 C213.91 433.05 216.49 434.7 219.08 436.39 C221.66 438.08 224.25 439.81 226.83 441.58 C229.42 443.35 233.29 446.1 234.59 447" fill="none" stroke="#0b5393" stroke-width="1.65"/>
<path d="M48.5 378.75 C49.65 379.17 53.1 380.42 55.4 381.25 C57.69 382.07 59.99 382.9 62.29 383.73 C64.59 384.55 66.89 385.38 69.19 386.2 C71.48 387.02 73.78 387.84 76.08 388.67 C78.38 389.49 80.68 390.32 82.98 391.14 C85.28 391.97 87.57 392.8 89.87 393.63 C92.17 394.46 94.47 395.29 96.77 396.13 C99.07 396.96 101.36 397.8 103.66 398.65 C105.96 399.49 108.26 400.34 110.56 401.2 C112.86 402.05 115.15 402.91 117.45 403.78 C119.75 404.65 122.05 405.52 124.35 406.41 C126.65 407.29 128.95 408.18 131.24 409.08 C133.54 409.98 135.84 410.88 138.14 411.8 C140.44 412.72 142.74 413.65 145.03 414.58 C147.33 415.52 149.63 416.47 151.93 417.43 C154.23 418.39 156.53 419.36 158.83 420.35 C161.12 421.34 163.42 422.33 165.72 423.35 C168.02 424.36 170.32 425.38 172.62 426.43 C174.91 427.47 177.21 428.52 179.51 429.6 C181.81 430.67 184.11 431.76 186.41 432.86 C188.71 433.97 191 435.09 193.3 436.23 C195.6 437.37 197.9 438.52 200.2 439.7 C202.5 440.88 204.79 442.07 207.09 443.29 C209.39 444.51 212.84 446.38 213.99 447" fill="none" stroke="#0b5393" stroke-width="1.65"/>
<path d="M48.5 401.5 C49.46 401.78 52.35 402.63 54.28 403.19 C56.2 403.76 58.13 404.32 60.05 404.88 C61.98 405.45 63.9 406.01 65.83 406.58 C67.75 407.14 69.68 407.71 71.6 408.28 C73.53 408.85 75.45 409.41 77.38 409.99 C79.3 410.56 81.23 411.13 83.15 411.7 C85.08 412.28 87 412.85 88.93 413.43 C90.86 414.01 92.78 414.59 94.71 415.17 C96.63 415.76 98.56 416.34 100.48 416.93 C102.41 417.52 104.33 418.12 106.26 418.71 C108.18 419.31 110.11 419.91 112.03 420.52 C113.96 421.12 115.88 421.73 117.81 422.34 C119.73 422.95 121.66 423.57 123.58 424.19 C125.51 424.82 127.43 425.44 129.36 426.07 C131.29 426.71 133.21 427.34 135.14 427.99 C137.06 428.63 138.99 429.28 140.91 429.93 C142.84 430.59 144.76 431.25 146.69 431.91 C148.61 432.58 150.54 433.25 152.46 433.93 C154.39 434.62 156.31 435.3 158.24 436 C160.16 436.69 162.09 437.39 164.01 438.1 C165.94 438.81 167.86 439.53 169.79 440.25 C171.72 440.98 173.64 441.71 175.57 442.45 C177.49 443.19 179.42 443.94 181.34 444.7 C183.27 445.46 186.15 446.62 187.12 447" fill="none" stroke="#0b5393" stroke-width="1.65"/>
<path d="M48.5 424.25 C49.31 424.43 51.75 424.97 53.38 425.33 C55 425.68 56.63 426.02 58.26 426.36 C59.88 426.7 61.51 427.03 63.13 427.36 C64.76 427.68 66.39 428 68.01 428.32 C69.64 428.63 71.26 428.94 72.89 429.25 C74.52 429.55 76.14 429.86 77.77 430.15 C79.39 430.45 81.02 430.75 82.65 431.04 C84.27 431.33 85.9 431.62 87.52 431.9 C89.15 432.19 90.78 432.48 92.4 432.76 C94.03 433.04 95.65 433.32 97.28 433.61 C98.91 433.89 100.53 434.17 102.16 434.45 C103.78 434.73 105.41 435.01 107.04 435.29 C108.66 435.57 110.29 435.85 111.91 436.14 C113.54 436.42 115.17 436.71 116.79 436.99 C118.42 437.28 120.04 437.57 121.67 437.86 C123.3 438.16 124.92 438.45 126.55 438.75 C128.17 439.05 129.8 439.35 131.43 439.66 C133.05 439.97 134.68 440.28 136.3 440.59 C137.93 440.91 139.56 441.23 141.18 441.56 C142.81 441.89 144.43 442.22 146.06 442.56 C147.69 442.9 149.31 443.25 150.94 443.6 C152.56 443.95 154.19 444.32 155.82 444.68 C157.44 445.05 159.07 445.43 160.69 445.82 C162.32 446.2 164.76 446.8 165.57 447" fill="none" stroke="#0b5393" stroke-width="1.65"/>
<text x="82" y="394.7" font-size="5" fill="#06a2e2" font-weight="bold" stroke="#06a2e2" stroke-width="0.1" textLength="5.85" lengthAdjust="spacingAndGlyphs">0,2</text>
<text x="82" y="400.2" font-size="5" fill="#06a2e2" font-weight="bold" stroke="#06a2e2" stroke-width="0.1" textLength="7.8" lengthAdjust="spacingAndGlyphs">7,06</text>
<text x="100.9" y="383.9" font-size="5" fill="#06a2e2" font-weight="bold" stroke="#06a2e2" stroke-width="0.1" textLength="5.85" lengthAdjust="spacingAndGlyphs">0,4</text>
<text x="100.9" y="389.4" font-size="5" fill="#06a2e2" font-weight="bold" stroke="#06a2e2" stroke-width="0.1" textLength="7.8" lengthAdjust="spacingAndGlyphs">14,1</text>
<text x="148.3" y="406.1" font-size="5" fill="#06a2e2" font-weight="bold" stroke="#06a2e2" stroke-width="0.1" textLength="5.85" lengthAdjust="spacingAndGlyphs">0,6</text>
<text x="148.3" y="411.6" font-size="5" fill="#06a2e2" font-weight="bold" stroke="#06a2e2" stroke-width="0.1" textLength="7.8" lengthAdjust="spacingAndGlyphs">21,2</text>
<text x="157.3" y="395.2" font-size="5" fill="#06a2e2" font-weight="bold" stroke="#06a2e2" stroke-width="0.1" textLength="5.85" lengthAdjust="spacingAndGlyphs">0,8</text>
<text x="157.3" y="400.7" font-size="5" fill="#06a2e2" font-weight="bold" stroke="#06a2e2" stroke-width="0.1" textLength="7.8" lengthAdjust="spacingAndGlyphs">28,2</text>
<rect x="59.4" y="358.4" width="9" height="7.6" fill="#fff" stroke="#0b5393" stroke-width="1.1"/>
<text x="63.9" y="364.4" font-size="6.2" fill="#231f20" font-weight="bold" stroke="#231f20" stroke-width="0.16" text-anchor="middle">8</text>
<rect x="59.4" y="380.5" width="9" height="7.6" fill="#fff" stroke="#0b5393" stroke-width="1.1"/>
<text x="63.9" y="386.5" font-size="6.2" fill="#231f20" font-weight="bold" stroke="#231f20" stroke-width="0.16" text-anchor="middle">6</text>
<rect x="59.4" y="402.1" width="9" height="7.6" fill="#fff" stroke="#0b5393" stroke-width="1.1"/>
<text x="63.9" y="408.1" font-size="6.2" fill="#231f20" font-weight="bold" stroke="#231f20" stroke-width="0.16" text-anchor="middle">4</text>
<rect x="59.4" y="423.4" width="9" height="7.6" fill="#fff" stroke="#0b5393" stroke-width="1.1"/>
<text x="63.9" y="429.4" font-size="6.2" fill="#231f20" font-weight="bold" stroke="#231f20" stroke-width="0.16" text-anchor="middle">2</text>
<text x="48.5" y="453.3" font-size="5.6" fill="#231f20" font-weight="bold" stroke="#231f20" stroke-width="0.16" text-anchor="middle">0</text>
<text x="72.17" y="453.3" font-size="5.6" fill="#231f20" font-weight="bold" stroke="#231f20" stroke-width="0.16" text-anchor="middle">20</text>
<text x="95.85" y="453.3" font-size="5.6" fill="#231f20" font-weight="bold" stroke="#231f20" stroke-width="0.16" text-anchor="middle">40</text>
<text x="119.53" y="453.3" font-size="5.6" fill="#231f20" font-weight="bold" stroke="#231f20" stroke-width="0.16" text-anchor="middle">60</text>
<text x="143.2" y="453.3" font-size="5.6" fill="#231f20" font-weight="bold" stroke="#231f20" stroke-width="0.16" text-anchor="middle">80</text>
<text x="166.88" y="453.3" font-size="5.6" fill="#231f20" font-weight="bold" stroke="#231f20" stroke-width="0.16" text-anchor="middle">100</text>
<text x="190.55" y="453.3" font-size="5.6" fill="#231f20" font-weight="bold" stroke="#231f20" stroke-width="0.16" text-anchor="middle">120</text>
<text x="214.23" y="453.3" font-size="5.6" fill="#231f20" font-weight="bold" stroke="#231f20" stroke-width="0.16" text-anchor="middle">140</text>
<text x="237.9" y="453.3" font-size="5.6" fill="#231f20" font-weight="bold" stroke="#231f20" stroke-width="0.16" text-anchor="middle">160</text>
<text x="248.4" y="452.8" font-size="5.6" fill="#231f20" font-weight="bold" stroke="#231f20" stroke-width="0.16">l/min</text>
<line x1="48.5" y1="457" x2="238.2" y2="457" stroke="#c4c4c4" stroke-width="0.8"/>
<line x1="48.5" y1="455.8" x2="48.5" y2="457" stroke="#c4c4c4" stroke-width="0.8"/>
<text x="48.5" y="461.6" font-size="5.6" fill="#231f20" font-weight="bold" stroke="#231f20" stroke-width="0.16" text-anchor="middle">0</text>
<line x1="70.9" y1="455.8" x2="70.9" y2="457" stroke="#c4c4c4" stroke-width="0.8"/>
<text x="70.9" y="461.6" font-size="5.6" fill="#231f20" font-weight="bold" stroke="#231f20" stroke-width="0.16" text-anchor="middle">5</text>
<line x1="93.31" y1="455.8" x2="93.31" y2="457" stroke="#c4c4c4" stroke-width="0.8"/>
<text x="93.31" y="461.6" font-size="5.6" fill="#231f20" font-weight="bold" stroke="#231f20" stroke-width="0.16" text-anchor="middle">10</text>
<line x1="115.71" y1="455.8" x2="115.71" y2="457" stroke="#c4c4c4" stroke-width="0.8"/>
<text x="115.71" y="461.6" font-size="5.6" fill="#231f20" font-weight="bold" stroke="#231f20" stroke-width="0.16" text-anchor="middle">15</text>
<line x1="138.12" y1="455.8" x2="138.12" y2="457" stroke="#c4c4c4" stroke-width="0.8"/>
<text x="138.12" y="461.6" font-size="5.6" fill="#231f20" font-weight="bold" stroke="#231f20" stroke-width="0.16" text-anchor="middle">20</text>
<line x1="160.52" y1="455.8" x2="160.52" y2="457" stroke="#c4c4c4" stroke-width="0.8"/>
<text x="160.52" y="461.6" font-size="5.6" fill="#231f20" font-weight="bold" stroke="#231f20" stroke-width="0.16" text-anchor="middle">25</text>
<line x1="182.93" y1="455.8" x2="182.93" y2="457" stroke="#c4c4c4" stroke-width="0.8"/>
<text x="182.93" y="461.6" font-size="5.6" fill="#231f20" font-weight="bold" stroke="#231f20" stroke-width="0.16" text-anchor="middle">30</text>
<line x1="205.33" y1="455.8" x2="205.33" y2="457" stroke="#c4c4c4" stroke-width="0.8"/>
<text x="205.33" y="461.6" font-size="5.6" fill="#231f20" font-weight="bold" stroke="#231f20" stroke-width="0.16" text-anchor="middle">35</text>
<line x1="227.74" y1="455.8" x2="227.74" y2="457" stroke="#c4c4c4" stroke-width="0.8"/>
<text x="227.74" y="461.6" font-size="5.6" fill="#231f20" font-weight="bold" stroke="#231f20" stroke-width="0.16" text-anchor="middle">40</text>
<text x="240.2" y="461.6" font-size="5.4" fill="#231f20" font-weight="bold" stroke="#231f20" stroke-width="0.16" textLength="18.5" lengthAdjust="spacingAndGlyphs">USGPM</text>
<line x1="48.5" y1="464.3" x2="238.2" y2="464.3" stroke="#c4c4c4" stroke-width="0.8"/>
<line x1="48.5" y1="463.1" x2="48.5" y2="464.3" stroke="#c4c4c4" stroke-width="0.8"/>
<text x="48.5" y="470.6" font-size="5.6" fill="#231f20" font-weight="bold" stroke="#231f20" stroke-width="0.16" text-anchor="middle">0</text>
<line x1="68.23" y1="463.1" x2="68.23" y2="464.3" stroke="#c4c4c4" stroke-width="0.8"/>
<text x="68.23" y="470.6" font-size="5.6" fill="#231f20" font-weight="bold" stroke="#231f20" stroke-width="0.16" text-anchor="middle">1</text>
<line x1="87.96" y1="463.1" x2="87.96" y2="464.3" stroke="#c4c4c4" stroke-width="0.8"/>
<text x="87.96" y="470.6" font-size="5.6" fill="#231f20" font-weight="bold" stroke="#231f20" stroke-width="0.16" text-anchor="middle">2</text>
<line x1="107.69" y1="463.1" x2="107.69" y2="464.3" stroke="#c4c4c4" stroke-width="0.8"/>
<text x="107.69" y="470.6" font-size="5.6" fill="#231f20" font-weight="bold" stroke="#231f20" stroke-width="0.16" text-anchor="middle">3</text>
<line x1="127.42" y1="463.1" x2="127.42" y2="464.3" stroke="#c4c4c4" stroke-width="0.8"/>
<text x="127.42" y="470.6" font-size="5.6" fill="#231f20" font-weight="bold" stroke="#231f20" stroke-width="0.16" text-anchor="middle">4</text>
<line x1="147.15" y1="463.1" x2="147.15" y2="464.3" stroke="#c4c4c4" stroke-width="0.8"/>
<text x="147.15" y="470.6" font-size="5.6" fill="#231f20" font-weight="bold" stroke="#231f20" stroke-width="0.16" text-anchor="middle">5</text>
<line x1="166.88" y1="463.1" x2="166.88" y2="464.3" stroke="#c4c4c4" stroke-width="0.8"/>
<text x="166.88" y="470.6" font-size="5.6" fill="#231f20" font-weight="bold" stroke="#231f20" stroke-width="0.16" text-anchor="middle">6</text>
<line x1="186.6" y1="463.1" x2="186.6" y2="464.3" stroke="#c4c4c4" stroke-width="0.8"/>
<text x="186.6" y="470.6" font-size="5.6" fill="#231f20" font-weight="bold" stroke="#231f20" stroke-width="0.16" text-anchor="middle">7</text>
<line x1="206.33" y1="463.1" x2="206.33" y2="464.3" stroke="#c4c4c4" stroke-width="0.8"/>
<text x="206.33" y="470.6" font-size="5.6" fill="#231f20" font-weight="bold" stroke="#231f20" stroke-width="0.16" text-anchor="middle">8</text>
<line x1="226.06" y1="463.1" x2="226.06" y2="464.3" stroke="#c4c4c4" stroke-width="0.8"/>
<text x="226.06" y="470.6" font-size="5.6" fill="#231f20" font-weight="bold" stroke="#231f20" stroke-width="0.16" text-anchor="middle">9</text>
<text x="249" y="470.6" font-size="5.6" fill="#231f20" font-weight="bold" stroke="#231f20" stroke-width="0.16">m³/h</text>
<text x="231.9" y="477.3" font-size="5.2" fill="#231f20" font-weight="bold" stroke="#231f20" stroke-width="0.16" textLength="25" lengthAdjust="spacingAndGlyphs">CAPACITY</text>
<text x="269.8" y="341.9" font-size="5.4" fill="#231f20" font-weight="bold" stroke="#231f20" stroke-width="0.16" textLength="13.6" lengthAdjust="spacingAndGlyphs">HEAD</text>
<text x="269.8" y="349.8" font-size="5.4" fill="#231f20" font-weight="bold" stroke="#231f20" stroke-width="0.16" textLength="10.8" lengthAdjust="spacingAndGlyphs">PSIG</text>
<text x="285.7" y="349.8" font-size="5.4" fill="#231f20" font-weight="bold" stroke="#231f20" stroke-width="0.16" textLength="13.4" lengthAdjust="spacingAndGlyphs">mWC</text>
<path d="M286.2 356.2 V447.2 H284.2" fill="none" stroke="#c4c4c4" stroke-width="0.8"/>
<line x1="284.2" y1="431.01" x2="286.2" y2="431.01" stroke="#c4c4c4" stroke-width="0.8"/>
<text x="282.9" y="433.51" font-size="6" fill="#222" stroke="#222" stroke-width="0.1" text-anchor="end">20</text>
<line x1="284.2" y1="415.01" x2="286.2" y2="415.01" stroke="#c4c4c4" stroke-width="0.8"/>
<text x="282.9" y="417.51" font-size="6" fill="#222" stroke="#222" stroke-width="0.1" text-anchor="end">40</text>
<line x1="284.2" y1="399.02" x2="286.2" y2="399.02" stroke="#c4c4c4" stroke-width="0.8"/>
<text x="282.9" y="401.52" font-size="6" fill="#222" stroke="#222" stroke-width="0.1" text-anchor="end">60</text>
<line x1="284.2" y1="383.02" x2="286.2" y2="383.02" stroke="#c4c4c4" stroke-width="0.8"/>
<text x="282.9" y="385.52" font-size="6" fill="#222" stroke="#222" stroke-width="0.1" text-anchor="end">80</text>
<line x1="284.2" y1="367.03" x2="286.2" y2="367.03" stroke="#c4c4c4" stroke-width="0.8"/>
<text x="282.9" y="369.53" font-size="6" fill="#222" stroke="#222" stroke-width="0.1" text-anchor="end">100</text>
<text x="300.4" y="438.12" font-size="5.6" fill="#231f20" font-weight="bold" stroke="#231f20" stroke-width="0.16" text-anchor="end">10</text>
<text x="300.4" y="426.75" font-size="5.6" fill="#231f20" font-weight="bold" stroke="#231f20" stroke-width="0.16" text-anchor="end">20</text>
<text x="300.4" y="415.38" font-size="5.6" fill="#231f20" font-weight="bold" stroke="#231f20" stroke-width="0.16" text-anchor="end">30</text>
<text x="300.4" y="404" font-size="5.6" fill="#231f20" font-weight="bold" stroke="#231f20" stroke-width="0.16" text-anchor="end">40</text>
<text x="300.4" y="392.62" font-size="5.6" fill="#231f20" font-weight="bold" stroke="#231f20" stroke-width="0.16" text-anchor="end">50</text>
<text x="300.4" y="381.25" font-size="5.6" fill="#231f20" font-weight="bold" stroke="#231f20" stroke-width="0.16" text-anchor="end">60</text>
<text x="300.4" y="369.88" font-size="5.6" fill="#231f20" font-weight="bold" stroke="#231f20" stroke-width="0.16" text-anchor="end">70</text>
<text x="300.4" y="358.5" font-size="5.6" fill="#231f20" font-weight="bold" stroke="#231f20" stroke-width="0.16" text-anchor="end">80</text>
<path d="M302.5 435.62 H491.9 M302.5 424.25 H491.9 M302.5 412.88 H491.9 M302.5 401.5 H491.9 M302.5 390.12 H491.9 M302.5 378.75 H491.9 M302.5 367.38 H491.9 M302.5 356 H491.9 M302.5 356 V447 M329.56 356 V447 M356.61 356 V447 M383.67 356 V447 M410.73 356 V447 M437.79 356 V447 M464.84 356 V447 M491.9 356 V447 M302.5 447 H491.9" fill="none" stroke="#c4c4c4" stroke-width="0.8"/>
<rect x="302.3" y="336.6" width="190.2" height="17.8" fill="#e6e6e7" stroke="#0b5393" stroke-width="1.2"/>
<text x="312.1" y="350.7" font-size="12.2" fill="#10599b" font-weight="bold" textLength="29.2" lengthAdjust="spacingAndGlyphs">T220</text>
<line x1="370" y1="342.4" x2="397.8" y2="342.4" stroke="#0b5393" stroke-width="1"/>
<rect x="380.3" y="339" width="8.2" height="7" fill="#e6e6e7" stroke="#0b5393" stroke-width="1"/>
<line x1="370" y1="350.2" x2="397.8" y2="350.2" stroke="#06a2e2" stroke-width="0.9"/>
<text x="400.8" y="344.7" font-size="5" fill="#231f20" font-weight="bold" stroke="#231f20" stroke-width="0.16" textLength="41" lengthAdjust="spacingAndGlyphs">Air pressure (bar)</text>
<text x="400.8" y="351.6" font-size="5" fill="#06a2e2" font-weight="bold" stroke="#06a2e2" stroke-width="0.16" textLength="80.7" lengthAdjust="spacingAndGlyphs">Air consumption (Nm³/min, SCFM)</text>
<path d="M314.2 366.3 C314.8 368.55 316.6 375.75 317.8 379.8 C319 383.85 319.3 386.08 321.4 390.6 C323.5 395.12 326.8 401.78 330.4 406.9 C334 412.02 337.88 416.8 343 421.3 C348.12 425.8 354.48 430.7 361.1 433.9 C367.72 437.1 379.1 439.4 382.7 440.5" fill="none" stroke="#06a2e2" stroke-width="1.1"/>
<path d="M330.4 365.4 C331 367.5 332.2 373.2 334 378 C335.8 382.8 338.48 389.38 341.2 394.2 C343.92 399.02 346.08 402.38 350.3 406.9 C354.52 411.42 361.1 417.4 366.5 421.3 C371.9 425.2 377.45 427.9 382.7 430.3 C387.95 432.7 392.95 434 398 435.7 C403.05 437.4 410.5 439.7 413 440.5" fill="none" stroke="#06a2e2" stroke-width="1.1"/>
<path d="M354.8 375.3 C355.55 377.85 357.35 385.93 359.3 390.6 C361.25 395.27 363.2 399.08 366.5 403.3 C369.8 407.52 373.85 412 379.1 415.9 C384.35 419.8 389.18 422.75 398 426.7 C406.82 430.65 426.33 437.45 432 439.6" fill="none" stroke="#06a2e2" stroke-width="1.1"/>
<path d="M376.4 384.3 C377.45 386.25 380.15 391.93 382.7 396 C385.25 400.07 389.15 405.68 391.7 408.7 C394.25 411.72 393.28 410.88 398 414.1 C402.72 417.32 411.18 423.6 420 428 C428.82 432.4 445.75 438.42 450.9 440.5" fill="none" stroke="#06a2e2" stroke-width="1.1"/>
<path d="M302.5 356 C303.79 356.5 307.67 357.98 310.26 358.99 C312.84 359.99 315.43 361.01 318.01 362.03 C320.6 363.06 323.18 364.09 325.77 365.14 C328.35 366.18 330.94 367.24 333.53 368.3 C336.11 369.37 338.7 370.44 341.28 371.53 C343.87 372.62 346.45 373.71 349.04 374.82 C351.62 375.93 354.21 377.05 356.79 378.18 C359.38 379.31 361.97 380.45 364.55 381.6 C367.14 382.76 369.72 383.92 372.31 385.1 C374.89 386.28 377.48 387.47 380.06 388.67 C382.65 389.87 385.23 391.08 387.82 392.31 C390.41 393.53 392.99 394.77 395.58 396.02 C398.16 397.27 400.75 398.53 403.33 399.81 C405.92 401.09 408.5 402.37 411.09 403.68 C413.67 404.98 416.26 406.29 418.85 407.62 C421.43 408.95 424.02 410.3 426.6 411.65 C429.19 413.01 431.77 414.38 434.36 415.76 C436.94 417.15 439.53 418.55 442.11 419.96 C444.7 421.37 447.29 422.8 449.87 424.24 C452.46 425.68 455.04 427.14 457.63 428.61 C460.21 430.08 462.8 431.57 465.38 433.07 C467.97 434.57 470.55 436.09 473.14 437.62 C475.73 439.15 478.31 440.7 480.9 442.26 C483.48 443.83 487.36 446.21 488.65 447" fill="none" stroke="#0b5393" stroke-width="1.65"/>
<path d="M302.5 378.75 C303.63 379.1 307.04 380.14 309.31 380.85 C311.58 381.56 313.85 382.28 316.12 383.01 C318.39 383.75 320.66 384.5 322.93 385.25 C325.2 386.01 327.47 386.78 329.74 387.56 C332.01 388.34 334.28 389.14 336.55 389.94 C338.82 390.74 341.09 391.56 343.36 392.38 C345.63 393.21 347.9 394.05 350.17 394.9 C352.44 395.75 354.71 396.61 356.98 397.48 C359.24 398.35 361.51 399.23 363.78 400.12 C366.05 401.01 368.32 401.92 370.59 402.83 C372.86 403.74 375.13 404.67 377.4 405.6 C379.67 406.53 381.94 407.48 384.21 408.43 C386.48 409.39 388.75 410.36 391.02 411.33 C393.29 412.31 395.56 413.29 397.83 414.29 C400.1 415.28 402.37 416.29 404.64 417.3 C406.91 418.32 409.18 419.35 411.45 420.38 C413.72 421.42 415.99 422.46 418.26 423.51 C420.53 424.57 422.8 425.63 425.07 426.7 C427.34 427.78 429.61 428.86 431.88 429.95 C434.15 431.04 436.42 432.14 438.69 433.25 C440.96 434.36 443.23 435.48 445.5 436.61 C447.77 437.74 450.04 438.88 452.31 440.02 C454.58 441.17 456.85 442.32 459.12 443.48 C461.39 444.65 464.79 446.41 465.93 447" fill="none" stroke="#0b5393" stroke-width="1.65"/>
<path d="M302.5 401.5 C303.47 401.76 306.38 402.52 308.32 403.04 C310.26 403.56 312.2 404.08 314.13 404.62 C316.07 405.15 318.01 405.69 319.95 406.24 C321.89 406.79 323.83 407.35 325.77 407.91 C327.71 408.47 329.65 409.04 331.59 409.61 C333.53 410.19 335.46 410.77 337.4 411.36 C339.34 411.94 341.28 412.54 343.22 413.14 C345.16 413.73 347.1 414.34 349.04 414.95 C350.98 415.56 352.92 416.17 354.86 416.79 C356.79 417.41 358.73 418.04 360.67 418.67 C362.61 419.29 364.55 419.93 366.49 420.57 C368.43 421.21 370.37 421.85 372.31 422.5 C374.25 423.14 376.19 423.79 378.12 424.45 C380.06 425.1 382 425.76 383.94 426.42 C385.88 427.09 387.82 427.75 389.76 428.42 C391.7 429.09 393.64 429.76 395.58 430.43 C397.52 431.11 399.45 431.79 401.39 432.47 C403.33 433.15 405.27 433.83 407.21 434.51 C409.15 435.2 411.09 435.88 413.03 436.57 C414.97 437.26 416.91 437.95 418.85 438.64 C420.78 439.33 422.72 440.03 424.66 440.72 C426.6 441.42 428.54 442.11 430.48 442.81 C432.42 443.51 434.36 444.2 436.3 444.9 C438.24 445.6 441.15 446.65 442.11 447" fill="none" stroke="#0b5393" stroke-width="1.65"/>
<path d="M302.5 424.25 C303.3 424.39 305.7 424.8 307.3 425.08 C308.9 425.35 310.5 425.63 312.11 425.9 C313.71 426.17 315.31 426.44 316.91 426.71 C318.51 426.98 320.11 427.24 321.71 427.51 C323.31 427.78 324.91 428.05 326.51 428.31 C328.11 428.58 329.71 428.85 331.32 429.12 C332.92 429.39 334.52 429.66 336.12 429.93 C337.72 430.2 339.32 430.47 340.92 430.74 C342.52 431.01 344.12 431.29 345.72 431.56 C347.32 431.84 348.93 432.12 350.53 432.4 C352.13 432.68 353.73 432.96 355.33 433.25 C356.93 433.54 358.53 433.82 360.13 434.12 C361.73 434.41 363.33 434.71 364.93 435.01 C366.54 435.31 368.14 435.61 369.74 435.92 C371.34 436.23 372.94 436.54 374.54 436.86 C376.14 437.18 377.74 437.5 379.34 437.83 C380.94 438.16 382.54 438.49 384.14 438.83 C385.75 439.17 387.35 439.52 388.95 439.87 C390.55 440.22 392.15 440.58 393.75 440.95 C395.35 441.31 396.95 441.68 398.55 442.06 C400.15 442.44 401.75 442.83 403.36 443.22 C404.96 443.62 406.56 444.02 408.16 444.43 C409.76 444.84 411.36 445.26 412.96 445.69 C414.56 446.12 416.96 446.78 417.76 447" fill="none" stroke="#0b5393" stroke-width="1.65"/>
<text x="316" y="373.1" font-size="5" fill="#06a2e2" font-weight="bold" stroke="#06a2e2" stroke-width="0.1" textLength="5.85" lengthAdjust="spacingAndGlyphs">0,3</text>
<text x="316" y="378.6" font-size="5" fill="#06a2e2" font-weight="bold" stroke="#06a2e2" stroke-width="0.1" textLength="7.8" lengthAdjust="spacingAndGlyphs">10,6</text>
<text x="337.6" y="383.9" font-size="5" fill="#06a2e2" font-weight="bold" stroke="#06a2e2" stroke-width="0.1" textLength="5.85" lengthAdjust="spacingAndGlyphs">0,6</text>
<text x="337.6" y="389.4" font-size="5" fill="#06a2e2" font-weight="bold" stroke="#06a2e2" stroke-width="0.1" textLength="7.8" lengthAdjust="spacingAndGlyphs">21,2</text>
<text x="361" y="389.9" font-size="5" fill="#06a2e2" font-weight="bold" stroke="#06a2e2" stroke-width="0.1" textLength="5.85" lengthAdjust="spacingAndGlyphs">0,9</text>
<text x="361" y="395.4" font-size="5" fill="#06a2e2" font-weight="bold" stroke="#06a2e2" stroke-width="0.1" textLength="7.8" lengthAdjust="spacingAndGlyphs">31,8</text>
<text x="395" y="405.7" font-size="5" fill="#06a2e2" font-weight="bold" stroke="#06a2e2" stroke-width="0.1" textLength="5.85" lengthAdjust="spacingAndGlyphs">1,2</text>
<text x="395" y="411.2" font-size="5" fill="#06a2e2" font-weight="bold" stroke="#06a2e2" stroke-width="0.1" textLength="7.8" lengthAdjust="spacingAndGlyphs">42,4</text>
<rect x="313.4" y="358.4" width="9" height="7.6" fill="#fff" stroke="#0b5393" stroke-width="1.1"/>
<text x="317.9" y="364.4" font-size="6.2" fill="#231f20" font-weight="bold" stroke="#231f20" stroke-width="0.16" text-anchor="middle">8</text>
<rect x="313.4" y="380.5" width="9" height="7.6" fill="#fff" stroke="#0b5393" stroke-width="1.1"/>
<text x="317.9" y="386.5" font-size="6.2" fill="#231f20" font-weight="bold" stroke="#231f20" stroke-width="0.16" text-anchor="middle">6</text>
<rect x="313.4" y="402.1" width="9" height="7.6" fill="#fff" stroke="#0b5393" stroke-width="1.1"/>
<text x="317.9" y="408.1" font-size="6.2" fill="#231f20" font-weight="bold" stroke="#231f20" stroke-width="0.16" text-anchor="middle">4</text>
<rect x="313.4" y="423.4" width="9" height="7.6" fill="#fff" stroke="#0b5393" stroke-width="1.1"/>
<text x="317.9" y="429.4" font-size="6.2" fill="#231f20" font-weight="bold" stroke="#231f20" stroke-width="0.16" text-anchor="middle">2</text>
<text x="302.5" y="453.3" font-size="5.6" fill="#231f20" font-weight="bold" stroke="#231f20" stroke-width="0.16" text-anchor="middle">0</text>
<text x="329.56" y="453.3" font-size="5.6" fill="#231f20" font-weight="bold" stroke="#231f20" stroke-width="0.16" text-anchor="middle">50</text>
<text x="356.61" y="453.3" font-size="5.6" fill="#231f20" font-weight="bold" stroke="#231f20" stroke-width="0.16" text-anchor="middle">100</text>
<text x="383.67" y="453.3" font-size="5.6" fill="#231f20" font-weight="bold" stroke="#231f20" stroke-width="0.16" text-anchor="middle">150</text>
<text x="410.73" y="453.3" font-size="5.6" fill="#231f20" font-weight="bold" stroke="#231f20" stroke-width="0.16" text-anchor="middle">200</text>
<text x="437.79" y="453.3" font-size="5.6" fill="#231f20" font-weight="bold" stroke="#231f20" stroke-width="0.16" text-anchor="middle">250</text>
<text x="464.84" y="453.3" font-size="5.6" fill="#231f20" font-weight="bold" stroke="#231f20" stroke-width="0.16" text-anchor="middle">300</text>
<text x="491.9" y="453.3" font-size="5.6" fill="#231f20" font-weight="bold" stroke="#231f20" stroke-width="0.16" text-anchor="middle">350</text>
<text x="502.4" y="452.8" font-size="5.6" fill="#231f20" font-weight="bold" stroke="#231f20" stroke-width="0.16">l/min</text>
<line x1="302.5" y1="457" x2="492.2" y2="457" stroke="#c4c4c4" stroke-width="0.8"/>
<line x1="302.5" y1="455.8" x2="302.5" y2="457" stroke="#c4c4c4" stroke-width="0.8"/>
<text x="302.5" y="461.6" font-size="5.6" fill="#231f20" font-weight="bold" stroke="#231f20" stroke-width="0.16" text-anchor="middle">0</text>
<line x1="322.98" y1="455.8" x2="322.98" y2="457" stroke="#c4c4c4" stroke-width="0.8"/>
<text x="322.98" y="461.6" font-size="5.6" fill="#231f20" font-weight="bold" stroke="#231f20" stroke-width="0.16" text-anchor="middle">10</text>
<line x1="343.47" y1="455.8" x2="343.47" y2="457" stroke="#c4c4c4" stroke-width="0.8"/>
<text x="343.47" y="461.6" font-size="5.6" fill="#231f20" font-weight="bold" stroke="#231f20" stroke-width="0.16" text-anchor="middle">20</text>
<line x1="363.95" y1="455.8" x2="363.95" y2="457" stroke="#c4c4c4" stroke-width="0.8"/>
<text x="363.95" y="461.6" font-size="5.6" fill="#231f20" font-weight="bold" stroke="#231f20" stroke-width="0.16" text-anchor="middle">30</text>
<line x1="384.44" y1="455.8" x2="384.44" y2="457" stroke="#c4c4c4" stroke-width="0.8"/>
<text x="384.44" y="461.6" font-size="5.6" fill="#231f20" font-weight="bold" stroke="#231f20" stroke-width="0.16" text-anchor="middle">40</text>
<line x1="404.92" y1="455.8" x2="404.92" y2="457" stroke="#c4c4c4" stroke-width="0.8"/>
<text x="404.92" y="461.6" font-size="5.6" fill="#231f20" font-weight="bold" stroke="#231f20" stroke-width="0.16" text-anchor="middle">50</text>
<line x1="425.41" y1="455.8" x2="425.41" y2="457" stroke="#c4c4c4" stroke-width="0.8"/>
<text x="425.41" y="461.6" font-size="5.6" fill="#231f20" font-weight="bold" stroke="#231f20" stroke-width="0.16" text-anchor="middle">60</text>
<line x1="445.89" y1="455.8" x2="445.89" y2="457" stroke="#c4c4c4" stroke-width="0.8"/>
<text x="445.89" y="461.6" font-size="5.6" fill="#231f20" font-weight="bold" stroke="#231f20" stroke-width="0.16" text-anchor="middle">70</text>
<line x1="466.38" y1="455.8" x2="466.38" y2="457" stroke="#c4c4c4" stroke-width="0.8"/>
<text x="466.38" y="461.6" font-size="5.6" fill="#231f20" font-weight="bold" stroke="#231f20" stroke-width="0.16" text-anchor="middle">80</text>
<line x1="486.86" y1="455.8" x2="486.86" y2="457" stroke="#c4c4c4" stroke-width="0.8"/>
<text x="486.86" y="461.6" font-size="5.6" fill="#231f20" font-weight="bold" stroke="#231f20" stroke-width="0.16" text-anchor="middle">90</text>
<text x="494.2" y="461.6" font-size="5.4" fill="#231f20" font-weight="bold" stroke="#231f20" stroke-width="0.16" textLength="18.5" lengthAdjust="spacingAndGlyphs">USGPM</text>
<line x1="302.5" y1="464.3" x2="492.2" y2="464.3" stroke="#c4c4c4" stroke-width="0.8"/>
<line x1="302.5" y1="463.1" x2="302.5" y2="464.3" stroke="#c4c4c4" stroke-width="0.8"/>
<text x="302.5" y="470.6" font-size="5.6" fill="#231f20" font-weight="bold" stroke="#231f20" stroke-width="0.16" text-anchor="middle">0</text>
<line x1="338.58" y1="463.1" x2="338.58" y2="464.3" stroke="#c4c4c4" stroke-width="0.8"/>
<text x="338.58" y="470.6" font-size="5.6" fill="#231f20" font-weight="bold" stroke="#231f20" stroke-width="0.16" text-anchor="middle">4</text>
<line x1="374.65" y1="463.1" x2="374.65" y2="464.3" stroke="#c4c4c4" stroke-width="0.8"/>
<text x="374.65" y="470.6" font-size="5.6" fill="#231f20" font-weight="bold" stroke="#231f20" stroke-width="0.16" text-anchor="middle">8</text>
<line x1="410.73" y1="463.1" x2="410.73" y2="464.3" stroke="#c4c4c4" stroke-width="0.8"/>
<text x="410.73" y="470.6" font-size="5.6" fill="#231f20" font-weight="bold" stroke="#231f20" stroke-width="0.16" text-anchor="middle">12</text>
<line x1="446.81" y1="463.1" x2="446.81" y2="464.3" stroke="#c4c4c4" stroke-width="0.8"/>
<text x="446.81" y="470.6" font-size="5.6" fill="#231f20" font-weight="bold" stroke="#231f20" stroke-width="0.16" text-anchor="middle">16</text>
<line x1="482.88" y1="463.1" x2="482.88" y2="464.3" stroke="#c4c4c4" stroke-width="0.8"/>
<text x="482.88" y="470.6" font-size="5.6" fill="#231f20" font-weight="bold" stroke="#231f20" stroke-width="0.16" text-anchor="middle">20</text>
<text x="503" y="470.6" font-size="5.6" fill="#231f20" font-weight="bold" stroke="#231f20" stroke-width="0.16">m³/h</text>
<text x="485.9" y="477.3" font-size="5.2" fill="#231f20" font-weight="bold" stroke="#231f20" stroke-width="0.16" textLength="25" lengthAdjust="spacingAndGlyphs">CAPACITY</text>
<text x="15.8" y="507.9" font-size="5.4" fill="#231f20" font-weight="bold" stroke="#231f20" stroke-width="0.16" textLength="13.6" lengthAdjust="spacingAndGlyphs">HEAD</text>
<text x="15.8" y="515.8" font-size="5.4" fill="#231f20" font-weight="bold" stroke="#231f20" stroke-width="0.16" textLength="10.8" lengthAdjust="spacingAndGlyphs">PSIG</text>
<text x="31.7" y="515.8" font-size="5.4" fill="#231f20" font-weight="bold" stroke="#231f20" stroke-width="0.16" textLength="13.4" lengthAdjust="spacingAndGlyphs">mWC</text>
<path d="M32.2 521.9 V612.9 H30.2" fill="none" stroke="#c4c4c4" stroke-width="0.8"/>
<line x1="30.2" y1="596.71" x2="32.2" y2="596.71" stroke="#c4c4c4" stroke-width="0.8"/>
<text x="28.9" y="599.21" font-size="6" fill="#222" stroke="#222" stroke-width="0.1" text-anchor="end">20</text>
<line x1="30.2" y1="580.71" x2="32.2" y2="580.71" stroke="#c4c4c4" stroke-width="0.8"/>
<text x="28.9" y="583.21" font-size="6" fill="#222" stroke="#222" stroke-width="0.1" text-anchor="end">40</text>
<line x1="30.2" y1="564.72" x2="32.2" y2="564.72" stroke="#c4c4c4" stroke-width="0.8"/>
<text x="28.9" y="567.22" font-size="6" fill="#222" stroke="#222" stroke-width="0.1" text-anchor="end">60</text>
<line x1="30.2" y1="548.72" x2="32.2" y2="548.72" stroke="#c4c4c4" stroke-width="0.8"/>
<text x="28.9" y="551.22" font-size="6" fill="#222" stroke="#222" stroke-width="0.1" text-anchor="end">80</text>
<line x1="30.2" y1="532.73" x2="32.2" y2="532.73" stroke="#c4c4c4" stroke-width="0.8"/>
<text x="28.9" y="535.23" font-size="6" fill="#222" stroke="#222" stroke-width="0.1" text-anchor="end">100</text>
<text x="46.4" y="603.83" font-size="5.6" fill="#231f20" font-weight="bold" stroke="#231f20" stroke-width="0.16" text-anchor="end">10</text>
<text x="46.4" y="592.45" font-size="5.6" fill="#231f20" font-weight="bold" stroke="#231f20" stroke-width="0.16" text-anchor="end">20</text>
<text x="46.4" y="581.08" font-size="5.6" fill="#231f20" font-weight="bold" stroke="#231f20" stroke-width="0.16" text-anchor="end">30</text>
<text x="46.4" y="569.7" font-size="5.6" fill="#231f20" font-weight="bold" stroke="#231f20" stroke-width="0.16" text-anchor="end">40</text>
<text x="46.4" y="558.33" font-size="5.6" fill="#231f20" font-weight="bold" stroke="#231f20" stroke-width="0.16" text-anchor="end">50</text>
<text x="46.4" y="546.95" font-size="5.6" fill="#231f20" font-weight="bold" stroke="#231f20" stroke-width="0.16" text-anchor="end">60</text>
<text x="46.4" y="535.58" font-size="5.6" fill="#231f20" font-weight="bold" stroke="#231f20" stroke-width="0.16" text-anchor="end">70</text>
<text x="46.4" y="524.2" font-size="5.6" fill="#231f20" font-weight="bold" stroke="#231f20" stroke-width="0.16" text-anchor="end">80</text>
<path d="M48.5 601.33 H237.9 M48.5 589.95 H237.9 M48.5 578.58 H237.9 M48.5 567.2 H237.9 M48.5 555.83 H237.9 M48.5 544.45 H237.9 M48.5 533.08 H237.9 M48.5 521.7 H237.9 M48.5 521.7 V612.7 M80.07 521.7 V612.7 M111.63 521.7 V612.7 M143.2 521.7 V612.7 M174.77 521.7 V612.7 M206.33 521.7 V612.7 M237.9 521.7 V612.7 M48.5 612.7 H237.9" fill="none" stroke="#c4c4c4" stroke-width="0.8"/>
<rect x="48.3" y="502.6" width="190.2" height="17.8" fill="#e6e6e7" stroke="#0b5393" stroke-width="1.2"/>
<text x="58.1" y="516.7" font-size="12.2" fill="#10599b" font-weight="bold" textLength="29.2" lengthAdjust="spacingAndGlyphs">T420</text>
<line x1="116" y1="508.4" x2="143.8" y2="508.4" stroke="#0b5393" stroke-width="1"/>
<rect x="126.3" y="505" width="8.2" height="7" fill="#e6e6e7" stroke="#0b5393" stroke-width="1"/>
<line x1="116" y1="516.2" x2="143.8" y2="516.2" stroke="#06a2e2" stroke-width="0.9"/>
<text x="146.8" y="510.7" font-size="5" fill="#231f20" font-weight="bold" stroke="#231f20" stroke-width="0.16" textLength="41" lengthAdjust="spacingAndGlyphs">Air pressure (bar)</text>
<text x="146.8" y="517.6" font-size="5" fill="#06a2e2" font-weight="bold" stroke="#06a2e2" stroke-width="0.16" textLength="80.7" lengthAdjust="spacingAndGlyphs">Air consumption (Nm³/min, SCFM)</text>
<path d="M54.9 525.1 C55.35 527.65 56.55 535.75 57.6 540.4 C58.65 545.05 59.4 548.18 61.2 553 C63 557.82 65.4 564.48 68.4 569.3 C71.4 574.12 75.3 578 79.2 581.9 C83.1 585.8 87.28 588.97 91.8 592.7 C96.32 596.43 103.88 602.37 106.3 604.3" fill="none" stroke="#06a2e2" stroke-width="1.1"/>
<path d="M75.6 531.1 C76.2 533.25 77.7 539.15 79.2 544 C80.7 548.85 81.97 554.48 84.6 560.2 C87.23 565.92 91.17 573.5 95 578.3 C98.83 583.1 103.4 585.73 107.6 589 C111.8 592.27 116 595.58 120.2 597.9 C124.4 600.22 128.6 601.65 132.8 602.9 C137 604.15 141.3 604.72 145.4 605.4 C149.5 606.08 155.4 606.73 157.4 607" fill="none" stroke="#06a2e2" stroke-width="1.1"/>
<path d="M95.5 540.4 C96.08 542.5 98 549.9 99 553 C100 556.1 100.28 556.57 101.5 559 C102.72 561.43 104.23 564.27 106.3 567.6 C108.37 570.93 110.53 575.22 113.9 579 C117.27 582.78 121.25 586.95 126.5 590.3 C131.75 593.65 138.98 596.78 145.4 599.1 C151.82 601.42 157.07 602.65 165 604.2 C172.93 605.75 188.33 607.7 193 608.4" fill="none" stroke="#06a2e2" stroke-width="1.1"/>
<path d="M123.4 553.9 C123.83 555.42 125.07 560.08 126 563 C126.93 565.92 126.82 567.9 129 571.4 C131.18 574.9 135.32 580.43 139.1 584 C142.88 587.57 147.38 590.48 151.7 592.8 C156.02 595.12 160.28 596.03 165 597.9 C169.72 599.77 175.28 602.25 180 604 C184.72 605.75 191.08 607.67 193.3 608.4" fill="none" stroke="#06a2e2" stroke-width="1.1"/>
<path d="M154.6 569.3 C155.23 570.72 156.43 574.72 158.4 577.8 C160.37 580.88 163.1 584.48 166.4 587.8 C169.7 591.12 173.75 594.27 178.2 597.7 C182.65 601.13 190.62 606.62 193.1 608.4" fill="none" stroke="#06a2e2" stroke-width="1.1"/>
<path d="M48.5 521.7 C49.79 522.15 53.66 523.47 56.23 524.41 C58.81 525.34 61.39 526.3 63.97 527.29 C66.55 528.27 69.12 529.29 71.7 530.33 C74.28 531.37 76.86 532.44 79.44 533.53 C82.01 534.62 84.59 535.74 87.17 536.87 C89.75 538.01 92.33 539.17 94.9 540.35 C97.48 541.52 100.06 542.72 102.64 543.94 C105.21 545.15 107.79 546.39 110.37 547.64 C112.95 548.89 115.53 550.16 118.1 551.44 C120.68 552.72 123.26 554.02 125.84 555.33 C128.42 556.64 130.99 557.96 133.57 559.29 C136.15 560.62 138.73 561.97 141.31 563.32 C143.88 564.67 146.46 566.03 149.04 567.4 C151.62 568.77 154.2 570.14 156.77 571.52 C159.35 572.9 161.93 574.29 164.51 575.68 C167.09 577.07 169.66 578.46 172.24 579.86 C174.82 581.25 177.4 582.65 179.98 584.04 C182.55 585.44 185.13 586.84 187.71 588.23 C190.29 589.62 192.86 591.02 195.44 592.4 C198.02 593.79 200.6 595.18 203.18 596.55 C205.75 597.93 208.33 599.3 210.91 600.67 C213.49 602.03 216.07 603.39 218.64 604.74 C221.22 606.09 223.8 607.43 226.38 608.75 C228.96 610.08 232.82 612.04 234.11 612.7" fill="none" stroke="#0b5393" stroke-width="1.65"/>
<path d="M48.5 544.45 C49.68 544.76 53.23 545.68 55.6 546.33 C57.96 546.98 60.33 547.65 62.69 548.35 C65.06 549.04 67.43 549.76 69.79 550.5 C72.16 551.24 74.52 552 76.89 552.77 C79.25 553.55 81.62 554.35 83.99 555.17 C86.35 555.99 88.72 556.82 91.08 557.67 C93.45 558.53 95.81 559.4 98.18 560.28 C100.55 561.17 102.91 562.07 105.28 562.98 C107.64 563.9 110.01 564.83 112.38 565.77 C114.74 566.71 117.11 567.67 119.47 568.64 C121.84 569.6 124.2 570.58 126.57 571.57 C128.94 572.56 131.3 573.57 133.67 574.58 C136.03 575.58 138.4 576.6 140.76 577.63 C143.13 578.66 145.5 579.69 147.86 580.74 C150.23 581.78 152.59 582.83 154.96 583.88 C157.32 584.93 159.69 585.99 162.06 587.06 C164.42 588.12 166.79 589.19 169.15 590.26 C171.52 591.33 173.88 592.4 176.25 593.48 C178.62 594.55 180.98 595.63 183.35 596.7 C185.71 597.78 188.08 598.86 190.44 599.93 C192.81 601.01 195.18 602.08 197.54 603.15 C199.91 604.22 202.27 605.29 204.64 606.36 C207.01 607.43 209.37 608.49 211.74 609.54 C214.1 610.6 217.65 612.17 218.83 612.7" fill="none" stroke="#0b5393" stroke-width="1.65"/>
<path d="M48.5 567.2 C49.5 567.45 52.51 568.2 54.51 568.72 C56.51 569.24 58.52 569.78 60.52 570.32 C62.53 570.87 64.53 571.43 66.53 572 C68.54 572.57 70.54 573.15 72.54 573.74 C74.55 574.33 76.55 574.93 78.55 575.54 C80.56 576.15 82.56 576.77 84.56 577.39 C86.57 578.02 88.57 578.65 90.58 579.29 C92.58 579.93 94.58 580.58 96.59 581.24 C98.59 581.89 100.59 582.55 102.6 583.21 C104.6 583.88 106.6 584.55 108.61 585.22 C110.61 585.89 112.62 586.57 114.62 587.25 C116.62 587.92 118.63 588.61 120.63 589.29 C122.63 589.97 124.64 590.66 126.64 591.34 C128.64 592.03 130.65 592.71 132.65 593.4 C134.66 594.08 136.66 594.77 138.66 595.45 C140.67 596.13 142.67 596.81 144.67 597.49 C146.68 598.17 148.68 598.84 150.68 599.51 C152.69 600.19 154.69 600.85 156.69 601.52 C158.7 602.18 160.7 602.84 162.71 603.49 C164.71 604.14 166.71 604.79 168.72 605.43 C170.72 606.07 172.72 606.7 174.73 607.33 C176.73 607.95 178.73 608.57 180.74 609.17 C182.74 609.78 184.75 610.38 186.75 610.97 C188.75 611.56 191.76 612.41 192.76 612.7" fill="none" stroke="#0b5393" stroke-width="1.65"/>
<path d="M48.5 589.95 C49.31 590.14 51.73 590.71 53.35 591.07 C54.97 591.43 56.58 591.79 58.2 592.14 C59.82 592.48 61.44 592.82 63.05 593.15 C64.67 593.48 66.29 593.81 67.9 594.12 C69.52 594.44 71.14 594.75 72.75 595.06 C74.37 595.37 75.99 595.67 77.6 595.96 C79.22 596.26 80.84 596.55 82.46 596.84 C84.07 597.12 85.69 597.41 87.31 597.69 C88.92 597.97 90.54 598.25 92.16 598.52 C93.77 598.8 95.39 599.08 97.01 599.35 C98.62 599.62 100.24 599.89 101.86 600.17 C103.48 600.44 105.09 600.71 106.71 600.99 C108.33 601.26 109.94 601.53 111.56 601.81 C113.18 602.08 114.79 602.36 116.41 602.64 C118.03 602.92 119.64 603.2 121.26 603.49 C122.88 603.77 124.49 604.06 126.11 604.36 C127.73 604.65 129.35 604.95 130.96 605.25 C132.58 605.56 134.2 605.86 135.81 606.18 C137.43 606.49 139.05 606.81 140.66 607.14 C142.28 607.47 143.9 607.8 145.51 608.15 C147.13 608.49 148.75 608.84 150.37 609.2 C151.98 609.56 153.6 609.93 155.22 610.31 C156.83 610.69 158.45 611.07 160.07 611.47 C161.68 611.87 164.11 612.5 164.92 612.7" fill="none" stroke="#0b5393" stroke-width="1.65"/>
<text x="58.5" y="537.5" font-size="5" fill="#06a2e2" font-weight="bold" stroke="#06a2e2" stroke-width="0.1" textLength="5.85" lengthAdjust="spacingAndGlyphs">0,4</text>
<text x="58.5" y="543" font-size="5" fill="#06a2e2" font-weight="bold" stroke="#06a2e2" stroke-width="0.1" textLength="7.8" lengthAdjust="spacingAndGlyphs">14,1</text>
<text x="82.8" y="549.2" font-size="5" fill="#06a2e2" font-weight="bold" stroke="#06a2e2" stroke-width="0.1" textLength="5.85" lengthAdjust="spacingAndGlyphs">0,8</text>
<text x="82.8" y="554.7" font-size="5" fill="#06a2e2" font-weight="bold" stroke="#06a2e2" stroke-width="0.1" textLength="7.8" lengthAdjust="spacingAndGlyphs">28,3</text>
<text x="102.7" y="554.9" font-size="5" fill="#06a2e2" font-weight="bold" stroke="#06a2e2" stroke-width="0.1" textLength="5.85" lengthAdjust="spacingAndGlyphs">1,2</text>
<text x="102.7" y="560.4" font-size="5" fill="#06a2e2" font-weight="bold" stroke="#06a2e2" stroke-width="0.1" textLength="7.8" lengthAdjust="spacingAndGlyphs">42,4</text>
<text x="129.7" y="566.6" font-size="5" fill="#06a2e2" font-weight="bold" stroke="#06a2e2" stroke-width="0.1" textLength="5.85" lengthAdjust="spacingAndGlyphs">1,6</text>
<text x="129.7" y="572.1" font-size="5" fill="#06a2e2" font-weight="bold" stroke="#06a2e2" stroke-width="0.1" textLength="7.8" lengthAdjust="spacingAndGlyphs">56,5</text>
<text x="152.8" y="560.7" font-size="5" fill="#06a2e2" font-weight="bold" stroke="#06a2e2" stroke-width="0.1" textLength="5.85" lengthAdjust="spacingAndGlyphs">2,0</text>
<text x="152.8" y="566.2" font-size="5" fill="#06a2e2" font-weight="bold" stroke="#06a2e2" stroke-width="0.1" textLength="7.8" lengthAdjust="spacingAndGlyphs">70,6</text>
<rect x="59.4" y="523.6" width="9" height="7.6" fill="#fff" stroke="#0b5393" stroke-width="1.1"/>
<text x="63.9" y="529.6" font-size="6.2" fill="#231f20" font-weight="bold" stroke="#231f20" stroke-width="0.16" text-anchor="middle">8</text>
<rect x="59.4" y="545.7" width="9" height="7.6" fill="#fff" stroke="#0b5393" stroke-width="1.1"/>
<text x="63.9" y="551.7" font-size="6.2" fill="#231f20" font-weight="bold" stroke="#231f20" stroke-width="0.16" text-anchor="middle">6</text>
<rect x="59.4" y="567.3" width="9" height="7.6" fill="#fff" stroke="#0b5393" stroke-width="1.1"/>
<text x="63.9" y="573.3" font-size="6.2" fill="#231f20" font-weight="bold" stroke="#231f20" stroke-width="0.16" text-anchor="middle">4</text>
<rect x="59.4" y="588.6" width="9" height="7.6" fill="#fff" stroke="#0b5393" stroke-width="1.1"/>
<text x="63.9" y="594.6" font-size="6.2" fill="#231f20" font-weight="bold" stroke="#231f20" stroke-width="0.16" text-anchor="middle">2</text>
<text x="48.5" y="619" font-size="5.6" fill="#231f20" font-weight="bold" stroke="#231f20" stroke-width="0.16" text-anchor="middle">0</text>
<text x="80.07" y="619" font-size="5.6" fill="#231f20" font-weight="bold" stroke="#231f20" stroke-width="0.16" text-anchor="middle">100</text>
<text x="111.63" y="619" font-size="5.6" fill="#231f20" font-weight="bold" stroke="#231f20" stroke-width="0.16" text-anchor="middle">200</text>
<text x="143.2" y="619" font-size="5.6" fill="#231f20" font-weight="bold" stroke="#231f20" stroke-width="0.16" text-anchor="middle">300</text>
<text x="174.77" y="619" font-size="5.6" fill="#231f20" font-weight="bold" stroke="#231f20" stroke-width="0.16" text-anchor="middle">400</text>
<text x="206.33" y="619" font-size="5.6" fill="#231f20" font-weight="bold" stroke="#231f20" stroke-width="0.16" text-anchor="middle">500</text>
<text x="237.9" y="619" font-size="5.6" fill="#231f20" font-weight="bold" stroke="#231f20" stroke-width="0.16" text-anchor="middle">600</text>
<text x="248.4" y="618.5" font-size="5.6" fill="#231f20" font-weight="bold" stroke="#231f20" stroke-width="0.16">l/min</text>
<line x1="48.5" y1="622.7" x2="238.2" y2="622.7" stroke="#c4c4c4" stroke-width="0.8"/>
<line x1="48.5" y1="621.5" x2="48.5" y2="622.7" stroke="#c4c4c4" stroke-width="0.8"/>
<text x="48.5" y="627.3" font-size="5.6" fill="#231f20" font-weight="bold" stroke="#231f20" stroke-width="0.16" text-anchor="middle">0</text>
<line x1="72.4" y1="621.5" x2="72.4" y2="622.7" stroke="#c4c4c4" stroke-width="0.8"/>
<text x="72.4" y="627.3" font-size="5.6" fill="#231f20" font-weight="bold" stroke="#231f20" stroke-width="0.16" text-anchor="middle">20</text>
<line x1="96.3" y1="621.5" x2="96.3" y2="622.7" stroke="#c4c4c4" stroke-width="0.8"/>
<text x="96.3" y="627.3" font-size="5.6" fill="#231f20" font-weight="bold" stroke="#231f20" stroke-width="0.16" text-anchor="middle">40</text>
<line x1="120.2" y1="621.5" x2="120.2" y2="622.7" stroke="#c4c4c4" stroke-width="0.8"/>
<text x="120.2" y="627.3" font-size="5.6" fill="#231f20" font-weight="bold" stroke="#231f20" stroke-width="0.16" text-anchor="middle">60</text>
<line x1="144.09" y1="621.5" x2="144.09" y2="622.7" stroke="#c4c4c4" stroke-width="0.8"/>
<text x="144.09" y="627.3" font-size="5.6" fill="#231f20" font-weight="bold" stroke="#231f20" stroke-width="0.16" text-anchor="middle">80</text>
<line x1="167.99" y1="621.5" x2="167.99" y2="622.7" stroke="#c4c4c4" stroke-width="0.8"/>
<text x="167.99" y="627.3" font-size="5.6" fill="#231f20" font-weight="bold" stroke="#231f20" stroke-width="0.16" text-anchor="middle">100</text>
<line x1="191.89" y1="621.5" x2="191.89" y2="622.7" stroke="#c4c4c4" stroke-width="0.8"/>
<text x="191.89" y="627.3" font-size="5.6" fill="#231f20" font-weight="bold" stroke="#231f20" stroke-width="0.16" text-anchor="middle">120</text>
<line x1="215.79" y1="621.5" x2="215.79" y2="622.7" stroke="#c4c4c4" stroke-width="0.8"/>
<text x="215.79" y="627.3" font-size="5.6" fill="#231f20" font-weight="bold" stroke="#231f20" stroke-width="0.16" text-anchor="middle">140</text>
<text x="240.2" y="627.3" font-size="5.4" fill="#231f20" font-weight="bold" stroke="#231f20" stroke-width="0.16" textLength="18.5" lengthAdjust="spacingAndGlyphs">USGPM</text>
<line x1="48.5" y1="630" x2="238.2" y2="630" stroke="#c4c4c4" stroke-width="0.8"/>
<line x1="48.5" y1="628.8" x2="48.5" y2="630" stroke="#c4c4c4" stroke-width="0.8"/>
<text x="48.5" y="636.3" font-size="5.6" fill="#231f20" font-weight="bold" stroke="#231f20" stroke-width="0.16" text-anchor="middle">0</text>
<line x1="69.54" y1="628.8" x2="69.54" y2="630" stroke="#c4c4c4" stroke-width="0.8"/>
<text x="69.54" y="636.3" font-size="5.6" fill="#231f20" font-weight="bold" stroke="#231f20" stroke-width="0.16" text-anchor="middle">4</text>
<line x1="90.59" y1="628.8" x2="90.59" y2="630" stroke="#c4c4c4" stroke-width="0.8"/>
<text x="90.59" y="636.3" font-size="5.6" fill="#231f20" font-weight="bold" stroke="#231f20" stroke-width="0.16" text-anchor="middle">8</text>
<line x1="111.63" y1="628.8" x2="111.63" y2="630" stroke="#c4c4c4" stroke-width="0.8"/>
<text x="111.63" y="636.3" font-size="5.6" fill="#231f20" font-weight="bold" stroke="#231f20" stroke-width="0.16" text-anchor="middle">12</text>
<line x1="132.68" y1="628.8" x2="132.68" y2="630" stroke="#c4c4c4" stroke-width="0.8"/>
<text x="132.68" y="636.3" font-size="5.6" fill="#231f20" font-weight="bold" stroke="#231f20" stroke-width="0.16" text-anchor="middle">16</text>
<line x1="153.72" y1="628.8" x2="153.72" y2="630" stroke="#c4c4c4" stroke-width="0.8"/>
<text x="153.72" y="636.3" font-size="5.6" fill="#231f20" font-weight="bold" stroke="#231f20" stroke-width="0.16" text-anchor="middle">20</text>
<line x1="174.77" y1="628.8" x2="174.77" y2="630" stroke="#c4c4c4" stroke-width="0.8"/>
<text x="174.77" y="636.3" font-size="5.6" fill="#231f20" font-weight="bold" stroke="#231f20" stroke-width="0.16" text-anchor="middle">24</text>
<line x1="195.81" y1="628.8" x2="195.81" y2="630" stroke="#c4c4c4" stroke-width="0.8"/>
<text x="195.81" y="636.3" font-size="5.6" fill="#231f20" font-weight="bold" stroke="#231f20" stroke-width="0.16" text-anchor="middle">28</text>
<line x1="216.86" y1="628.8" x2="216.86" y2="630" stroke="#c4c4c4" stroke-width="0.8"/>
<text x="216.86" y="636.3" font-size="5.6" fill="#231f20" font-weight="bold" stroke="#231f20" stroke-width="0.16" text-anchor="middle">32</text>
<text x="249" y="636.3" font-size="5.6" fill="#231f20" font-weight="bold" stroke="#231f20" stroke-width="0.16">m³/h</text>
<text x="231.9" y="643" font-size="5.2" fill="#231f20" font-weight="bold" stroke="#231f20" stroke-width="0.16" textLength="25" lengthAdjust="spacingAndGlyphs">CAPACITY</text>
<text x="269.8" y="507.9" font-size="5.4" fill="#231f20" font-weight="bold" stroke="#231f20" stroke-width="0.16" textLength="13.6" lengthAdjust="spacingAndGlyphs">HEAD</text>
<text x="269.8" y="515.8" font-size="5.4" fill="#231f20" font-weight="bold" stroke="#231f20" stroke-width="0.16" textLength="10.8" lengthAdjust="spacingAndGlyphs">PSIG</text>
<text x="285.7" y="515.8" font-size="5.4" fill="#231f20" font-weight="bold" stroke="#231f20" stroke-width="0.16" textLength="13.4" lengthAdjust="spacingAndGlyphs">mWC</text>
<path d="M286.2 521.9 V612.9 H284.2" fill="none" stroke="#c4c4c4" stroke-width="0.8"/>
<line x1="284.2" y1="596.71" x2="286.2" y2="596.71" stroke="#c4c4c4" stroke-width="0.8"/>
<text x="282.9" y="599.21" font-size="6" fill="#222" stroke="#222" stroke-width="0.1" text-anchor="end">20</text>
<line x1="284.2" y1="580.71" x2="286.2" y2="580.71" stroke="#c4c4c4" stroke-width="0.8"/>
<text x="282.9" y="583.21" font-size="6" fill="#222" stroke="#222" stroke-width="0.1" text-anchor="end">40</text>
<line x1="284.2" y1="564.72" x2="286.2" y2="564.72" stroke="#c4c4c4" stroke-width="0.8"/>
<text x="282.9" y="567.22" font-size="6" fill="#222" stroke="#222" stroke-width="0.1" text-anchor="end">60</text>
<line x1="284.2" y1="548.72" x2="286.2" y2="548.72" stroke="#c4c4c4" stroke-width="0.8"/>
<text x="282.9" y="551.22" font-size="6" fill="#222" stroke="#222" stroke-width="0.1" text-anchor="end">80</text>
<line x1="284.2" y1="532.73" x2="286.2" y2="532.73" stroke="#c4c4c4" stroke-width="0.8"/>
<text x="282.9" y="535.23" font-size="6" fill="#222" stroke="#222" stroke-width="0.1" text-anchor="end">100</text>
<text x="300.4" y="603.83" font-size="5.6" fill="#231f20" font-weight="bold" stroke="#231f20" stroke-width="0.16" text-anchor="end">10</text>
<text x="300.4" y="592.45" font-size="5.6" fill="#231f20" font-weight="bold" stroke="#231f20" stroke-width="0.16" text-anchor="end">20</text>
<text x="300.4" y="581.08" font-size="5.6" fill="#231f20" font-weight="bold" stroke="#231f20" stroke-width="0.16" text-anchor="end">30</text>
<text x="300.4" y="569.7" font-size="5.6" fill="#231f20" font-weight="bold" stroke="#231f20" stroke-width="0.16" text-anchor="end">40</text>
<text x="300.4" y="558.33" font-size="5.6" fill="#231f20" font-weight="bold" stroke="#231f20" stroke-width="0.16" text-anchor="end">50</text>
<text x="300.4" y="546.95" font-size="5.6" fill="#231f20" font-weight="bold" stroke="#231f20" stroke-width="0.16" text-anchor="end">60</text>
<text x="300.4" y="535.58" font-size="5.6" fill="#231f20" font-weight="bold" stroke="#231f20" stroke-width="0.16" text-anchor="end">70</text>
<text x="300.4" y="524.2" font-size="5.6" fill="#231f20" font-weight="bold" stroke="#231f20" stroke-width="0.16" text-anchor="end">80</text>
<path d="M302.5 601.33 H491.9 M302.5 589.95 H491.9 M302.5 578.58 H491.9 M302.5 567.2 H491.9 M302.5 555.83 H491.9 M302.5 544.45 H491.9 M302.5 533.08 H491.9 M302.5 521.7 H491.9 M302.5 521.7 V612.7 M323.54 521.7 V612.7 M344.59 521.7 V612.7 M365.63 521.7 V612.7 M386.68 521.7 V612.7 M407.72 521.7 V612.7 M428.77 521.7 V612.7 M449.81 521.7 V612.7 M470.86 521.7 V612.7 M491.9 521.7 V612.7 M302.5 612.7 H491.9" fill="none" stroke="#c4c4c4" stroke-width="0.8"/>
<rect x="302.3" y="502.6" width="190.2" height="17.8" fill="#e6e6e7" stroke="#0b5393" stroke-width="1.2"/>
<text x="312.1" y="516.7" font-size="12.2" fill="#10599b" font-weight="bold" textLength="29.2" lengthAdjust="spacingAndGlyphs">T820</text>
<line x1="370" y1="508.4" x2="397.8" y2="508.4" stroke="#0b5393" stroke-width="1"/>
<rect x="380.3" y="505" width="8.2" height="7" fill="#e6e6e7" stroke="#0b5393" stroke-width="1"/>
<line x1="370" y1="516.2" x2="397.8" y2="516.2" stroke="#06a2e2" stroke-width="0.9"/>
<text x="400.8" y="510.7" font-size="5" fill="#231f20" font-weight="bold" stroke="#231f20" stroke-width="0.16" textLength="41" lengthAdjust="spacingAndGlyphs">Air pressure (bar)</text>
<text x="400.8" y="517.6" font-size="5" fill="#06a2e2" font-weight="bold" stroke="#06a2e2" stroke-width="0.16" textLength="80.7" lengthAdjust="spacingAndGlyphs">Air consumption (Nm³/min, SCFM)</text>
<path d="M325 530.5 C325.45 532.45 326.5 537.85 327.7 542.2 C328.9 546.55 330.25 551.8 332.2 556.6 C334.15 561.4 336.1 566.48 339.4 571 C342.7 575.52 346.9 579.78 352 583.7 C357.1 587.62 363.33 590.78 370 594.5 C376.67 598.22 388.33 604.08 392 606" fill="none" stroke="#06a2e2" stroke-width="1.1"/>
<path d="M342.1 536.8 C342.55 538.9 343.43 544.6 344.8 549.4 C346.17 554.2 347.88 560.78 350.3 565.6 C352.72 570.42 355.4 574.38 359.3 578.3 C363.2 582.22 367.25 585.5 373.7 589.1 C380.15 592.7 392.2 597.05 398 599.9 C403.8 602.75 406.75 605.15 408.5 606.2" fill="none" stroke="#06a2e2" stroke-width="1.1"/>
<path d="M362.9 547.6 C363.5 550 365 557.78 366.5 562 C368 566.22 369.5 569.28 371.9 572.9 C374.3 576.52 376.55 580.1 380.9 583.7 C385.25 587.3 391.3 590.6 398 594.5 C404.7 598.4 417.25 605 421.1 607.1" fill="none" stroke="#06a2e2" stroke-width="1.1"/>
<path d="M387.2 561.1 C387.8 563.07 389 569.43 390.8 572.9 C392.6 576.37 393.97 578.38 398 581.9 C402.03 585.42 406.5 589.65 415 594 C423.5 598.35 443.33 605.67 449 608" fill="none" stroke="#06a2e2" stroke-width="1.1"/>
<path d="M418.4 575.6 C419 576.95 420.5 581.15 422 583.7 C423.5 586.25 424.4 588.2 427.4 590.9 C430.4 593.6 434.28 597.05 440 599.9 C445.72 602.75 458.08 606.65 461.7 608" fill="none" stroke="#06a2e2" stroke-width="1.1"/>
<path d="M302.5 521.7 C303.71 522.19 307.36 523.64 309.79 524.64 C312.22 525.64 314.64 526.66 317.07 527.7 C319.5 528.74 321.93 529.8 324.36 530.87 C326.79 531.95 329.22 533.04 331.65 534.15 C334.08 535.26 336.5 536.39 338.93 537.53 C341.36 538.67 343.79 539.83 346.22 541.01 C348.65 542.18 351.08 543.37 353.51 544.57 C355.94 545.77 358.36 546.98 360.79 548.21 C363.22 549.44 365.65 550.68 368.08 551.93 C370.51 553.18 372.94 554.45 375.37 555.72 C377.8 557 380.22 558.28 382.65 559.58 C385.08 560.87 387.51 562.17 389.94 563.49 C392.37 564.8 394.8 566.12 397.23 567.45 C399.66 568.78 402.08 570.12 404.51 571.46 C406.94 572.8 409.37 574.15 411.8 575.51 C414.23 576.86 416.66 578.22 419.09 579.59 C421.52 580.95 423.94 582.32 426.37 583.7 C428.8 585.07 431.23 586.45 433.66 587.83 C436.09 589.2 438.52 590.59 440.95 591.97 C443.38 593.35 445.8 594.74 448.23 596.12 C450.66 597.51 453.09 598.89 455.52 600.28 C457.95 601.66 460.38 603.05 462.81 604.43 C465.23 605.81 467.66 607.2 470.09 608.57 C472.52 609.95 476.16 612.01 477.38 612.7" fill="none" stroke="#0b5393" stroke-width="1.65"/>
<path d="M302.5 544.45 C303.63 544.81 307.04 545.89 309.3 546.63 C311.57 547.37 313.84 548.12 316.11 548.89 C318.38 549.65 320.64 550.43 322.91 551.23 C325.18 552.02 327.45 552.83 329.72 553.65 C331.99 554.47 334.25 555.3 336.52 556.14 C338.79 556.98 341.06 557.84 343.33 558.7 C345.59 559.57 347.86 560.44 350.13 561.33 C352.4 562.22 354.67 563.12 356.93 564.02 C359.2 564.93 361.47 565.85 363.74 566.78 C366.01 567.7 368.28 568.64 370.54 569.58 C372.81 570.53 375.08 571.48 377.35 572.44 C379.62 573.4 381.88 574.37 384.15 575.35 C386.42 576.33 388.69 577.31 390.96 578.3 C393.22 579.29 395.49 580.29 397.76 581.3 C400.03 582.3 402.3 583.31 404.57 584.33 C406.83 585.34 409.1 586.37 411.37 587.39 C413.64 588.42 415.91 589.45 418.17 590.49 C420.44 591.53 422.71 592.57 424.98 593.61 C427.25 594.66 429.51 595.7 431.78 596.76 C434.05 597.81 436.32 598.86 438.59 599.92 C440.86 600.98 443.12 602.04 445.39 603.1 C447.66 604.16 449.93 605.23 452.2 606.29 C454.46 607.36 456.73 608.43 459 609.5 C461.27 610.56 464.67 612.17 465.8 612.7" fill="none" stroke="#0b5393" stroke-width="1.65"/>
<path d="M302.5 567.2 C303.55 567.5 306.71 568.38 308.81 568.97 C310.92 569.56 313.02 570.15 315.13 570.74 C317.23 571.33 319.34 571.92 321.44 572.51 C323.54 573.1 325.65 573.69 327.75 574.28 C329.86 574.87 331.96 575.46 334.07 576.05 C336.17 576.64 338.28 577.23 340.38 577.83 C342.48 578.42 344.59 579.02 346.69 579.61 C348.8 580.21 350.9 580.8 353.01 581.4 C355.11 582 357.22 582.6 359.32 583.2 C361.42 583.81 363.53 584.41 365.63 585.02 C367.74 585.63 369.84 586.23 371.95 586.85 C374.05 587.46 376.16 588.07 378.26 588.69 C380.36 589.31 382.47 589.93 384.57 590.55 C386.68 591.17 388.78 591.8 390.89 592.43 C392.99 593.06 395.1 593.69 397.2 594.33 C399.3 594.97 401.41 595.61 403.51 596.26 C405.62 596.9 407.72 597.55 409.83 598.21 C411.93 598.86 414.04 599.52 416.14 600.18 C418.24 600.84 420.35 601.51 422.45 602.19 C424.56 602.86 426.66 603.54 428.77 604.22 C430.87 604.9 432.98 605.59 435.08 606.29 C437.18 606.98 439.29 607.68 441.39 608.39 C443.5 609.1 445.6 609.81 447.71 610.53 C449.81 611.24 452.97 612.34 454.02 612.7" fill="none" stroke="#0b5393" stroke-width="1.65"/>
<path d="M302.5 589.95 C303.35 590.15 305.91 590.79 307.61 591.18 C309.32 591.57 311.02 591.95 312.72 592.31 C314.43 592.68 316.13 593.03 317.84 593.36 C319.54 593.7 321.24 594.02 322.95 594.33 C324.65 594.65 326.36 594.95 328.06 595.24 C329.76 595.53 331.47 595.81 333.17 596.08 C334.88 596.36 336.58 596.62 338.28 596.88 C339.99 597.14 341.69 597.4 343.4 597.64 C345.1 597.89 346.8 598.14 348.51 598.38 C350.21 598.62 351.92 598.86 353.62 599.09 C355.32 599.33 357.03 599.57 358.73 599.8 C360.44 600.04 362.14 600.27 363.84 600.51 C365.55 600.75 367.25 600.99 368.96 601.23 C370.66 601.47 372.36 601.72 374.07 601.97 C375.77 602.22 377.48 602.48 379.18 602.74 C380.88 603.01 382.59 603.28 384.29 603.56 C386 603.84 387.7 604.12 389.4 604.42 C391.11 604.72 392.81 605.03 394.52 605.34 C396.22 605.66 397.92 605.99 399.63 606.34 C401.33 606.68 403.04 607.04 404.74 607.41 C406.44 607.78 408.15 608.17 409.85 608.57 C411.56 608.98 413.26 609.4 414.97 609.84 C416.67 610.28 418.37 610.73 420.08 611.21 C421.78 611.69 424.34 612.45 425.19 612.7" fill="none" stroke="#0b5393" stroke-width="1.65"/>
<text x="331.3" y="544.1" font-size="5" fill="#06a2e2" font-weight="bold" stroke="#06a2e2" stroke-width="0.1" textLength="5.85" lengthAdjust="spacingAndGlyphs">1,0</text>
<text x="331.3" y="549.6" font-size="5" fill="#06a2e2" font-weight="bold" stroke="#06a2e2" stroke-width="0.1" textLength="7.8" lengthAdjust="spacingAndGlyphs">21,1</text>
<text x="346.6" y="549.9" font-size="5" fill="#06a2e2" font-weight="bold" stroke="#06a2e2" stroke-width="0.1" textLength="5.85" lengthAdjust="spacingAndGlyphs">1,5</text>
<text x="346.6" y="555.4" font-size="5" fill="#06a2e2" font-weight="bold" stroke="#06a2e2" stroke-width="0.1" textLength="7.8" lengthAdjust="spacingAndGlyphs">32,8</text>
<text x="368.3" y="560.7" font-size="5" fill="#06a2e2" font-weight="bold" stroke="#06a2e2" stroke-width="0.1" textLength="5.85" lengthAdjust="spacingAndGlyphs">2,0</text>
<text x="368.3" y="566.2" font-size="5" fill="#06a2e2" font-weight="bold" stroke="#06a2e2" stroke-width="0.1" textLength="7.8" lengthAdjust="spacingAndGlyphs">70,6</text>
<text x="389" y="554.9" font-size="5" fill="#06a2e2" font-weight="bold" stroke="#06a2e2" stroke-width="0.1" textLength="5.85" lengthAdjust="spacingAndGlyphs">2,5</text>
<text x="389" y="560.4" font-size="5" fill="#06a2e2" font-weight="bold" stroke="#06a2e2" stroke-width="0.1" textLength="7.8" lengthAdjust="spacingAndGlyphs">88,3</text>
<text x="419.3" y="572.1" font-size="5" fill="#06a2e2" font-weight="bold" stroke="#06a2e2" stroke-width="0.1" textLength="5.85" lengthAdjust="spacingAndGlyphs">3,0</text>
<text x="419.3" y="577.6" font-size="5" fill="#06a2e2" font-weight="bold" stroke="#06a2e2" stroke-width="0.1" textLength="5.85" lengthAdjust="spacingAndGlyphs">186</text>
<rect x="313.4" y="523.6" width="9" height="7.6" fill="#fff" stroke="#0b5393" stroke-width="1.1"/>
<text x="317.9" y="529.6" font-size="6.2" fill="#231f20" font-weight="bold" stroke="#231f20" stroke-width="0.16" text-anchor="middle">8</text>
<rect x="313.4" y="545.7" width="9" height="7.6" fill="#fff" stroke="#0b5393" stroke-width="1.1"/>
<text x="317.9" y="551.7" font-size="6.2" fill="#231f20" font-weight="bold" stroke="#231f20" stroke-width="0.16" text-anchor="middle">6</text>
<rect x="313.4" y="567.3" width="9" height="7.6" fill="#fff" stroke="#0b5393" stroke-width="1.1"/>
<text x="317.9" y="573.3" font-size="6.2" fill="#231f20" font-weight="bold" stroke="#231f20" stroke-width="0.16" text-anchor="middle">4</text>
<rect x="313.4" y="588.6" width="9" height="7.6" fill="#fff" stroke="#0b5393" stroke-width="1.1"/>
<text x="317.9" y="594.6" font-size="6.2" fill="#231f20" font-weight="bold" stroke="#231f20" stroke-width="0.16" text-anchor="middle">2</text>
<text x="302.5" y="619" font-size="5.6" fill="#231f20" font-weight="bold" stroke="#231f20" stroke-width="0.16" text-anchor="middle">0</text>
<text x="323.54" y="619" font-size="5.6" fill="#231f20" font-weight="bold" stroke="#231f20" stroke-width="0.16" text-anchor="middle">100</text>
<text x="344.59" y="619" font-size="5.6" fill="#231f20" font-weight="bold" stroke="#231f20" stroke-width="0.16" text-anchor="middle">200</text>
<text x="365.63" y="619" font-size="5.6" fill="#231f20" font-weight="bold" stroke="#231f20" stroke-width="0.16" text-anchor="middle">300</text>
<text x="386.68" y="619" font-size="5.6" fill="#231f20" font-weight="bold" stroke="#231f20" stroke-width="0.16" text-anchor="middle">400</text>
<text x="407.72" y="619" font-size="5.6" fill="#231f20" font-weight="bold" stroke="#231f20" stroke-width="0.16" text-anchor="middle">500</text>
<text x="428.77" y="619" font-size="5.6" fill="#231f20" font-weight="bold" stroke="#231f20" stroke-width="0.16" text-anchor="middle">600</text>
<text x="449.81" y="619" font-size="5.6" fill="#231f20" font-weight="bold" stroke="#231f20" stroke-width="0.16" text-anchor="middle">700</text>
<text x="470.86" y="619" font-size="5.6" fill="#231f20" font-weight="bold" stroke="#231f20" stroke-width="0.16" text-anchor="middle">800</text>
<text x="491.9" y="619" font-size="5.6" fill="#231f20" font-weight="bold" stroke="#231f20" stroke-width="0.16" text-anchor="middle">900</text>
<text x="502.4" y="618.5" font-size="5.6" fill="#231f20" font-weight="bold" stroke="#231f20" stroke-width="0.16">l/min</text>
<line x1="302.5" y1="622.7" x2="492.2" y2="622.7" stroke="#c4c4c4" stroke-width="0.8"/>
<line x1="302.5" y1="621.5" x2="302.5" y2="622.7" stroke="#c4c4c4" stroke-width="0.8"/>
<text x="302.5" y="627.3" font-size="5.6" fill="#231f20" font-weight="bold" stroke="#231f20" stroke-width="0.16" text-anchor="middle">0</text>
<line x1="334.36" y1="621.5" x2="334.36" y2="622.7" stroke="#c4c4c4" stroke-width="0.8"/>
<text x="334.36" y="627.3" font-size="5.6" fill="#231f20" font-weight="bold" stroke="#231f20" stroke-width="0.16" text-anchor="middle">40</text>
<line x1="366.23" y1="621.5" x2="366.23" y2="622.7" stroke="#c4c4c4" stroke-width="0.8"/>
<text x="366.23" y="627.3" font-size="5.6" fill="#231f20" font-weight="bold" stroke="#231f20" stroke-width="0.16" text-anchor="middle">80</text>
<line x1="398.09" y1="621.5" x2="398.09" y2="622.7" stroke="#c4c4c4" stroke-width="0.8"/>
<text x="398.09" y="627.3" font-size="5.6" fill="#231f20" font-weight="bold" stroke="#231f20" stroke-width="0.16" text-anchor="middle">120</text>
<line x1="429.96" y1="621.5" x2="429.96" y2="622.7" stroke="#c4c4c4" stroke-width="0.8"/>
<text x="429.96" y="627.3" font-size="5.6" fill="#231f20" font-weight="bold" stroke="#231f20" stroke-width="0.16" text-anchor="middle">160</text>
<line x1="461.82" y1="621.5" x2="461.82" y2="622.7" stroke="#c4c4c4" stroke-width="0.8"/>
<text x="461.82" y="627.3" font-size="5.6" fill="#231f20" font-weight="bold" stroke="#231f20" stroke-width="0.16" text-anchor="middle">200</text>
<text x="494.2" y="627.3" font-size="5.4" fill="#231f20" font-weight="bold" stroke="#231f20" stroke-width="0.16" textLength="18.5" lengthAdjust="spacingAndGlyphs">USGPM</text>
<line x1="302.5" y1="630" x2="492.2" y2="630" stroke="#c4c4c4" stroke-width="0.8"/>
<line x1="302.5" y1="628.8" x2="302.5" y2="630" stroke="#c4c4c4" stroke-width="0.8"/>
<text x="302.5" y="636.3" font-size="5.6" fill="#231f20" font-weight="bold" stroke="#231f20" stroke-width="0.16" text-anchor="middle">0</text>
<line x1="337.57" y1="628.8" x2="337.57" y2="630" stroke="#c4c4c4" stroke-width="0.8"/>
<text x="337.57" y="636.3" font-size="5.6" fill="#231f20" font-weight="bold" stroke="#231f20" stroke-width="0.16" text-anchor="middle">10</text>
<line x1="372.65" y1="628.8" x2="372.65" y2="630" stroke="#c4c4c4" stroke-width="0.8"/>
<text x="372.65" y="636.3" font-size="5.6" fill="#231f20" font-weight="bold" stroke="#231f20" stroke-width="0.16" text-anchor="middle">20</text>
<line x1="407.72" y1="628.8" x2="407.72" y2="630" stroke="#c4c4c4" stroke-width="0.8"/>
<text x="407.72" y="636.3" font-size="5.6" fill="#231f20" font-weight="bold" stroke="#231f20" stroke-width="0.16" text-anchor="middle">30</text>
<line x1="442.8" y1="628.8" x2="442.8" y2="630" stroke="#c4c4c4" stroke-width="0.8"/>
<text x="442.8" y="636.3" font-size="5.6" fill="#231f20" font-weight="bold" stroke="#231f20" stroke-width="0.16" text-anchor="middle">40</text>
<line x1="477.87" y1="628.8" x2="477.87" y2="630" stroke="#c4c4c4" stroke-width="0.8"/>
<text x="477.87" y="636.3" font-size="5.6" fill="#231f20" font-weight="bold" stroke="#231f20" stroke-width="0.16" text-anchor="middle">50</text>
<text x="503" y="636.3" font-size="5.6" fill="#231f20" font-weight="bold" stroke="#231f20" stroke-width="0.16">m³/h</text>
<text x="485.9" y="643" font-size="5.2" fill="#231f20" font-weight="bold" stroke="#231f20" stroke-width="0.16" textLength="25" lengthAdjust="spacingAndGlyphs">CAPACITY</text>
<text x="12.9" y="666.5" font-size="18.2" fill="#10599b" font-weight="bold" stroke="#10599b" stroke-width="0.25" textLength="146.3" lengthAdjust="spacingAndGlyphs">Capacity changes</text>
<text x="47.6" y="686.8" font-size="7.8" fill="#231f20" font-weight="bold" stroke="#231f20" stroke-width="0.16" textLength="154.2" lengthAdjust="spacingAndGlyphs">Capacity changes at different suction lifts</text>
<text x="280.5" y="687.4" font-size="7.8" fill="#231f20" font-weight="bold" stroke="#231f20" stroke-width="0.16" textLength="149.5" lengthAdjust="spacingAndGlyphs">Capacity changes at different viscosities</text>
<rect x="49.3" y="698.3" width="209.5" height="13.2" fill="#e7e7e8" stroke="#c8c8c8" stroke-width="0.8"/>
<rect x="49.3" y="713.2" width="21.4" height="44.3" fill="#e7e7e8" stroke="#c8c8c8" stroke-width="0.8"/>
<path d="M72.3 713.2 V757.5 M89.2 713.2 V757.5 M106.1 713.2 V757.5 M123 713.2 V757.5 M139.9 713.2 V757.5 M156.8 713.2 V757.5 M173.7 713.2 V757.5 M190.6 713.2 V757.5 M207.5 713.2 V757.5 M224.4 713.2 V757.5 M241.3 713.2 V757.5 M258.8 713.2 V757.5 M72.3 713.2 H258.8 M72.3 722.06 H258.8 M72.3 730.92 H258.8 M72.3 739.78 H258.8 M72.3 748.64 H258.8 M72.3 757.5 H258.8" fill="none" stroke="#c8c8c8" stroke-width="0.8"/>
<text x="136.2" y="703.6" font-size="5" fill="#231f20" font-weight="bold" stroke="#231f20" stroke-width="0.16" textLength="35.3" lengthAdjust="spacingAndGlyphs">Suction lift (m)</text>
<text x="73.5" y="709.9" font-size="5" fill="#231f20" font-weight="bold" stroke="#231f20" stroke-width="0.1" text-anchor="middle">0</text>
<text x="89.8" y="709.9" font-size="5" fill="#231f20" font-weight="bold" stroke="#231f20" stroke-width="0.1" text-anchor="middle">1</text>
<text x="106.7" y="709.9" font-size="5" fill="#231f20" font-weight="bold" stroke="#231f20" stroke-width="0.1" text-anchor="middle">2</text>
<text x="123.6" y="709.9" font-size="5" fill="#231f20" font-weight="bold" stroke="#231f20" stroke-width="0.1" text-anchor="middle">3</text>
<text x="140.5" y="709.9" font-size="5" fill="#231f20" font-weight="bold" stroke="#231f20" stroke-width="0.1" text-anchor="middle">4</text>
<text x="157.4" y="709.9" font-size="5" fill="#231f20" font-weight="bold" stroke="#231f20" stroke-width="0.1" text-anchor="middle">5</text>
<text x="174.3" y="709.9" font-size="5" fill="#231f20" font-weight="bold" stroke="#231f20" stroke-width="0.1" text-anchor="middle">6</text>
<text x="191.2" y="709.9" font-size="5" fill="#231f20" font-weight="bold" stroke="#231f20" stroke-width="0.1" text-anchor="middle">7</text>
<text x="208.1" y="709.9" font-size="5" fill="#231f20" font-weight="bold" stroke="#231f20" stroke-width="0.1" text-anchor="middle">8</text>
<text x="225" y="709.9" font-size="5" fill="#231f20" font-weight="bold" stroke="#231f20" stroke-width="0.1" text-anchor="middle">9</text>
<text x="241.9" y="709.9" font-size="5" fill="#231f20" font-weight="bold" stroke="#231f20" stroke-width="0.1" text-anchor="middle">10</text>
<text x="66.8" y="723.96" font-size="5" fill="#231f20" font-weight="bold" stroke="#231f20" stroke-width="0.1" text-anchor="middle">80</text>
<text x="66.8" y="732.82" font-size="5" fill="#231f20" font-weight="bold" stroke="#231f20" stroke-width="0.1" text-anchor="middle">60</text>
<text x="66.8" y="741.68" font-size="5" fill="#231f20" font-weight="bold" stroke="#231f20" stroke-width="0.1" text-anchor="middle">40</text>
<text x="66.8" y="750.54" font-size="5" fill="#231f20" font-weight="bold" stroke="#231f20" stroke-width="0.1" text-anchor="middle">20</text>
<text x="0" y="0" font-size="5" font-weight="bold" fill="#231f20" text-anchor="middle" textLength="38" lengthAdjust="spacingAndGlyphs" transform="translate(55.5 735.35) rotate(-90)">% of normal flow</text>
<path d="M72.3 713.2 C75.12 713.53 83.57 714.6 89.2 715.19 C94.83 715.78 100.47 716.17 106.1 716.74 C111.73 717.32 117.37 717.91 123 718.65 C128.63 719.39 134.27 720.43 139.9 721.17 C145.53 721.92 151.17 722.22 156.8 723.12 C162.43 724.02 168.07 725.03 173.7 726.58 C179.33 728.13 184.97 730.1 190.6 732.43 C196.23 734.75 201.87 737.06 207.5 740.53 C213.13 744 220.82 750.42 224.4 753.25 C227.98 756.08 228.2 756.79 228.96 757.5" fill="none" stroke="#06a2e2" stroke-width="1.2"/>
<rect x="281.2" y="698.4" width="212.9" height="13.2" fill="#e7e7e8" stroke="#c8c8c8" stroke-width="0.8"/>
<rect x="281.2" y="713.1" width="21.1" height="45.6" fill="#e7e7e8" stroke="#c8c8c8" stroke-width="0.8"/>
<path d="M303.7 713.1 V758.7 M320.92 713.1 V758.7 M338.14 713.1 V758.7 M355.36 713.1 V758.7 M372.58 713.1 V758.7 M389.8 713.1 V758.7 M407.02 713.1 V758.7 M424.24 713.1 V758.7 M441.46 713.1 V758.7 M458.68 713.1 V758.7 M475.9 713.1 V758.7 M494.1 713.1 V758.7 M303.7 713.1 H494.1 M303.7 722.22 H494.1 M303.7 731.34 H494.1 M303.7 740.46 H494.1 M303.7 749.58 H494.1 M303.7 758.7 H494.1" fill="none" stroke="#c8c8c8" stroke-width="0.8"/>
<text x="371.2" y="703.7" font-size="5" fill="#231f20" font-weight="bold" stroke="#231f20" stroke-width="0.16" textLength="33.4" lengthAdjust="spacingAndGlyphs">Viscosity (cPs)</text>
<text x="304.9" y="710" font-size="5" fill="#231f20" font-weight="bold" stroke="#231f20" stroke-width="0.1" text-anchor="middle">0</text>
<text x="321.52" y="710" font-size="5" fill="#231f20" font-weight="bold" stroke="#231f20" stroke-width="0.1" text-anchor="middle">2000</text>
<text x="338.74" y="710" font-size="5" fill="#231f20" font-weight="bold" stroke="#231f20" stroke-width="0.1" text-anchor="middle">4000</text>
<text x="355.96" y="710" font-size="5" fill="#231f20" font-weight="bold" stroke="#231f20" stroke-width="0.1" text-anchor="middle">6000</text>
<text x="373.18" y="710" font-size="5" fill="#231f20" font-weight="bold" stroke="#231f20" stroke-width="0.1" text-anchor="middle">8000</text>
<text x="390.4" y="710" font-size="5" fill="#231f20" font-weight="bold" stroke="#231f20" stroke-width="0.1" text-anchor="middle">10000</text>
<text x="407.62" y="710" font-size="5" fill="#231f20" font-weight="bold" stroke="#231f20" stroke-width="0.1" text-anchor="middle">12000</text>
<text x="424.84" y="710" font-size="5" fill="#231f20" font-weight="bold" stroke="#231f20" stroke-width="0.1" text-anchor="middle">14000</text>
<text x="442.06" y="710" font-size="5" fill="#231f20" font-weight="bold" stroke="#231f20" stroke-width="0.1" text-anchor="middle">16000</text>
<text x="459.28" y="710" font-size="5" fill="#231f20" font-weight="bold" stroke="#231f20" stroke-width="0.1" text-anchor="middle">18000</text>
<text x="476.5" y="710" font-size="5" fill="#231f20" font-weight="bold" stroke="#231f20" stroke-width="0.1" text-anchor="middle">20000</text>
<text x="298.55" y="724.12" font-size="5" fill="#231f20" font-weight="bold" stroke="#231f20" stroke-width="0.1" text-anchor="middle">80</text>
<text x="298.55" y="733.24" font-size="5" fill="#231f20" font-weight="bold" stroke="#231f20" stroke-width="0.1" text-anchor="middle">60</text>
<text x="298.55" y="742.36" font-size="5" fill="#231f20" font-weight="bold" stroke="#231f20" stroke-width="0.1" text-anchor="middle">40</text>
<text x="298.55" y="751.48" font-size="5" fill="#231f20" font-weight="bold" stroke="#231f20" stroke-width="0.1" text-anchor="middle">20</text>
<text x="0" y="0" font-size="5" font-weight="bold" fill="#231f20" text-anchor="middle" textLength="38" lengthAdjust="spacingAndGlyphs" transform="translate(287.4 735.9) rotate(-90)">% of normal flow</text>
<path d="M303.7 713.1 C306.57 714.16 315.18 717.47 320.92 719.48 C326.66 721.5 332.4 723.34 338.14 725.18 C343.88 727.03 349.62 728.81 355.36 730.56 C361.1 732.32 366.84 734.07 372.58 735.72 C378.32 737.37 384.06 739.18 389.8 740.46 C395.54 741.74 401.28 742.47 407.02 743.42 C412.76 744.38 418.5 745.43 424.24 746.21 C429.98 746.98 435.72 747.61 441.46 748.08 C447.2 748.54 452.94 748.84 458.68 748.99 C464.42 749.14 473.03 748.99 475.9 748.99" fill="none" stroke="#06a2e2" stroke-width="1.2"/>
<text x="186.9" y="772.3" font-size="7.3" fill="#231f20" font-weight="bold" stroke="#231f20" stroke-width="0.16" textLength="101.2" lengthAdjust="spacingAndGlyphs">Changes reserved without notice</text>
</svg>
</body></html>
